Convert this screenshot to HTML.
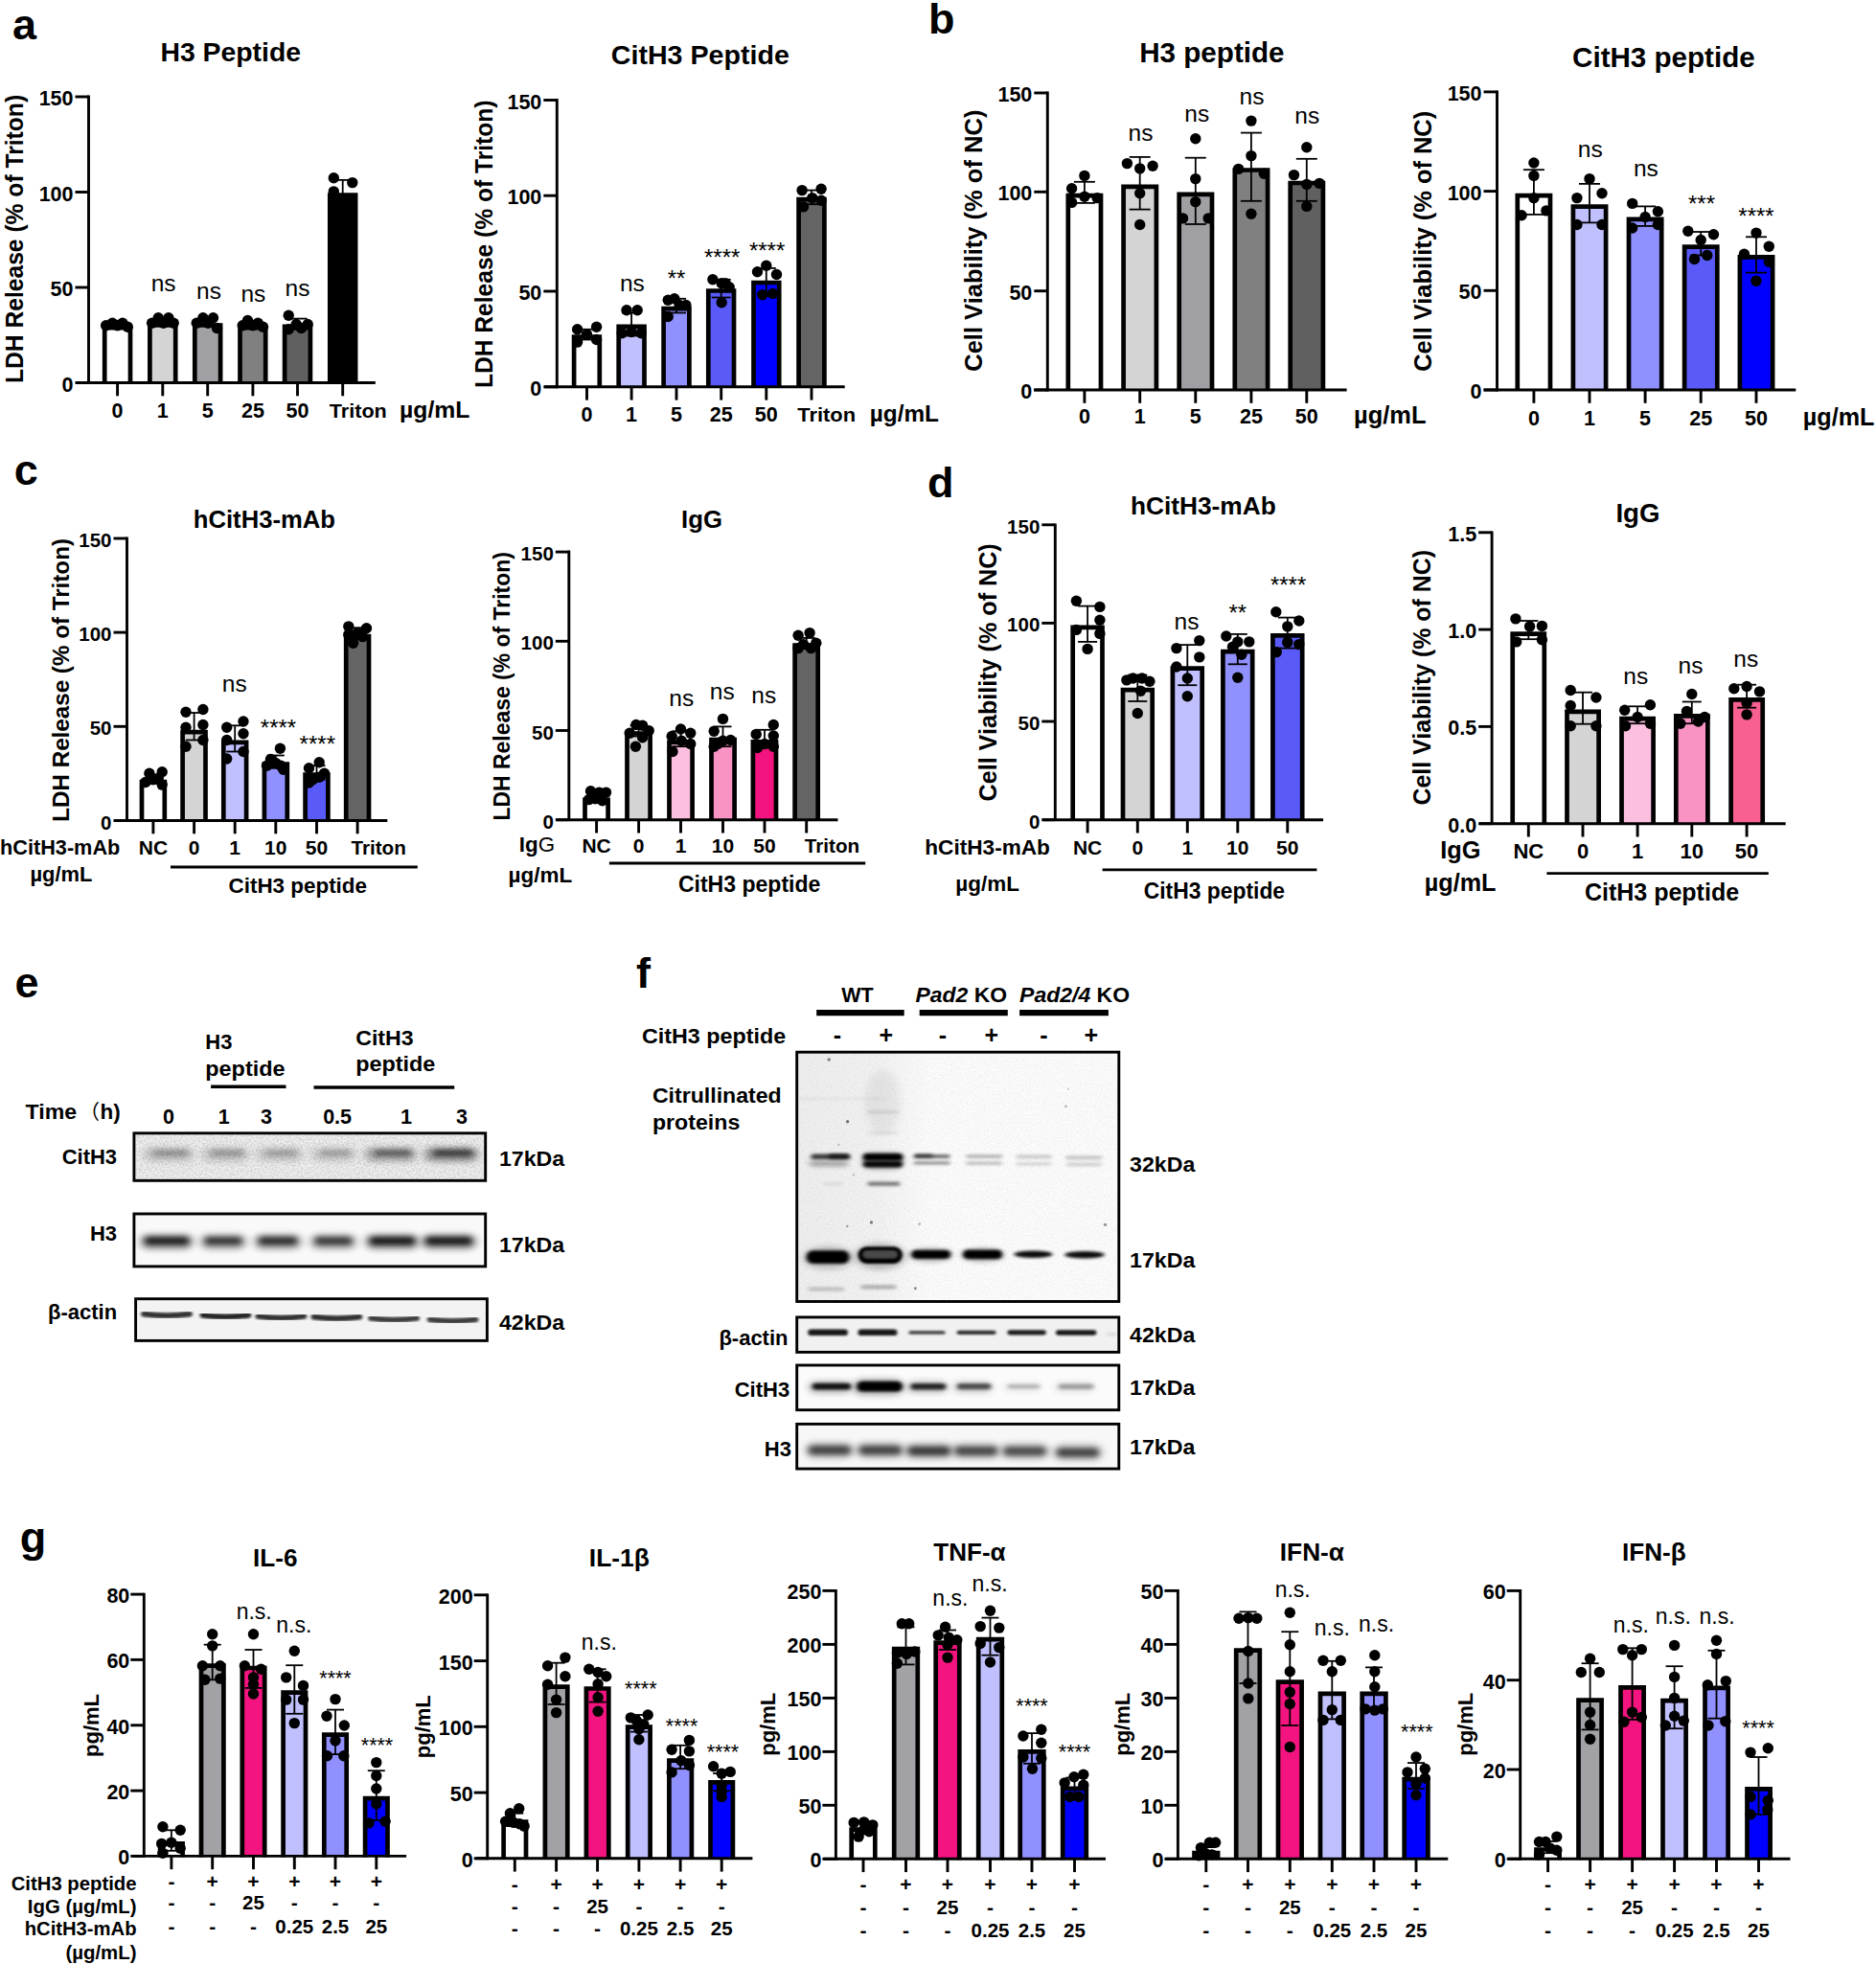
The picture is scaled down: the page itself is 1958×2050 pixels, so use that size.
<!DOCTYPE html>
<html><head><meta charset="utf-8"><title>Figure</title><style>html,body{margin:0;padding:0;background:#fff}svg{display:block}</style></head><body>
<svg width="1958" height="2050" viewBox="0 0 1958 2050" font-family="'Liberation Sans', sans-serif" font-weight="bold" fill="#000">
<rect width="1958" height="2050" fill="#fff"/>
<g id="aL">
<rect x="109.2" y="342.2" width="26.7" height="57.4" fill="#fff"/>
<path d="M109.2,400.5V342.2H136.0V400.5" fill="none" stroke="#000" stroke-width="4.7"/>
<rect x="156.4" y="339.5" width="26.7" height="60.0" fill="#d4d4d4"/>
<path d="M156.4,400.5V339.5H183.2V400.5" fill="none" stroke="#000" stroke-width="4.7"/>
<rect x="203.3" y="339.5" width="26.7" height="60.0" fill="#a0a0a4"/>
<path d="M203.3,400.5V339.5H230.1V400.5" fill="none" stroke="#000" stroke-width="4.7"/>
<rect x="250.5" y="342.2" width="26.7" height="57.4" fill="#808080"/>
<path d="M250.5,400.5V342.2H277.2V400.5" fill="none" stroke="#000" stroke-width="4.7"/>
<rect x="297.1" y="340.8" width="26.7" height="58.7" fill="#606060"/>
<path d="M297.1,400.5V340.8H323.9V400.5" fill="none" stroke="#000" stroke-width="4.7"/>
<rect x="344.3" y="203.6" width="26.7" height="195.9" fill="#000"/>
<path d="M344.3,400.5V203.6H371.1V400.5" fill="none" stroke="#000" stroke-width="4.7"/>
<line x1="310.5" y1="332.6" x2="310.5" y2="343.8" stroke="#000" stroke-width="1.8" stroke-linecap="butt"/>
<line x1="300.5" y1="332.6" x2="320.5" y2="332.6" stroke="#000" stroke-width="1.8" stroke-linecap="butt"/>
<line x1="300.5" y1="343.8" x2="320.5" y2="343.8" stroke="#000" stroke-width="1.8" stroke-linecap="butt"/>
<line x1="357.7" y1="187.9" x2="357.7" y2="214.6" stroke="#000" stroke-width="1.8" stroke-linecap="butt"/>
<line x1="347.7" y1="187.9" x2="367.7" y2="187.9" stroke="#000" stroke-width="1.8" stroke-linecap="butt"/>
<line x1="347.7" y1="214.6" x2="367.7" y2="214.6" stroke="#000" stroke-width="1.8" stroke-linecap="butt"/>
<circle cx="110.6" cy="339.8" r="5.7"/>
<circle cx="117.3" cy="337.2" r="5.7"/>
<circle cx="122.6" cy="339.8" r="5.7"/>
<circle cx="127.9" cy="337.2" r="5.7"/>
<circle cx="133.3" cy="341.2" r="5.7"/>
<circle cx="158.6" cy="337.2" r="5.7"/>
<circle cx="165.2" cy="331.8" r="5.7"/>
<circle cx="170.6" cy="337.2" r="5.7"/>
<circle cx="175.9" cy="331.8" r="5.7"/>
<circle cx="181.2" cy="337.2" r="5.7"/>
<circle cx="205.2" cy="337.2" r="5.7"/>
<circle cx="211.9" cy="331.8" r="5.7"/>
<circle cx="217.2" cy="337.2" r="5.7"/>
<circle cx="222.5" cy="331.8" r="5.7"/>
<circle cx="226.5" cy="342.5" r="5.7"/>
<circle cx="253.2" cy="339.8" r="5.7"/>
<circle cx="258.5" cy="334.5" r="5.7"/>
<circle cx="263.9" cy="339.8" r="5.7"/>
<circle cx="269.2" cy="337.2" r="5.7"/>
<circle cx="274.5" cy="341.2" r="5.7"/>
<circle cx="301.2" cy="329.2" r="5.7"/>
<circle cx="301.2" cy="343.8" r="5.7"/>
<circle cx="309.2" cy="338.5" r="5.7"/>
<circle cx="314.5" cy="342.5" r="5.7"/>
<circle cx="321.2" cy="338.5" r="5.7"/>
<circle cx="348.3" cy="185.8" r="5.7"/>
<circle cx="348.3" cy="199.9" r="5.7"/>
<circle cx="367.8" cy="190.6" r="5.7"/>
<line x1="92.5" y1="99.6" x2="92.5" y2="401.0" stroke="#000" stroke-width="2.9" stroke-linecap="butt"/>
<line x1="79.2" y1="399.5" x2="391.8" y2="399.5" stroke="#000" stroke-width="2.9" stroke-linecap="butt"/>
<line x1="78.5" y1="101.0" x2="92.5" y2="101.0" stroke="#000" stroke-width="2.9" stroke-linecap="butt"/>
<text x="76.5" y="110.0" font-size="21.5" text-anchor="end">150</text>
<line x1="78.5" y1="200.5" x2="92.5" y2="200.5" stroke="#000" stroke-width="2.9" stroke-linecap="butt"/>
<text x="76.5" y="209.5" font-size="21.5" text-anchor="end">100</text>
<line x1="78.5" y1="300.0" x2="92.5" y2="300.0" stroke="#000" stroke-width="2.9" stroke-linecap="butt"/>
<text x="76.5" y="309.0" font-size="21.5" text-anchor="end">50</text>
<line x1="78.5" y1="399.5" x2="92.5" y2="399.5" stroke="#000" stroke-width="2.9" stroke-linecap="butt"/>
<text x="76.5" y="408.5" font-size="21.5" text-anchor="end">0</text>
<line x1="122.6" y1="399.5" x2="122.6" y2="413.3" stroke="#000" stroke-width="2.9" stroke-linecap="butt"/>
<line x1="169.8" y1="399.5" x2="169.8" y2="413.3" stroke="#000" stroke-width="2.9" stroke-linecap="butt"/>
<line x1="216.7" y1="399.5" x2="216.7" y2="413.3" stroke="#000" stroke-width="2.9" stroke-linecap="butt"/>
<line x1="263.9" y1="399.5" x2="263.9" y2="413.3" stroke="#000" stroke-width="2.9" stroke-linecap="butt"/>
<line x1="310.5" y1="399.5" x2="310.5" y2="413.3" stroke="#000" stroke-width="2.9" stroke-linecap="butt"/>
<line x1="357.7" y1="399.5" x2="357.7" y2="413.3" stroke="#000" stroke-width="2.9" stroke-linecap="butt"/>
<text x="170.6" y="303.8" font-size="24.5" text-anchor="middle" font-weight="normal">ns</text>
<text x="218.0" y="311.8" font-size="24.5" text-anchor="middle" font-weight="normal">ns</text>
<text x="264.4" y="314.5" font-size="24.5" text-anchor="middle" font-weight="normal">ns</text>
<text x="310.5" y="308.6" font-size="24.5" text-anchor="middle" font-weight="normal">ns</text>
<text x="122.6" y="435.8" font-size="21.5" text-anchor="middle">0</text>
<text x="169.8" y="435.8" font-size="21.5" text-anchor="middle">1</text>
<text x="216.7" y="435.8" font-size="21.5" text-anchor="middle">5</text>
<text x="263.9" y="435.8" font-size="21.5" text-anchor="middle">25</text>
<text x="310.5" y="435.8" font-size="21.5" text-anchor="middle">50</text>
<text x="343.8" y="435.8" font-size="21" text-anchor="start" textLength="60.0" lengthAdjust="spacingAndGlyphs">Triton</text>
<text x="417.1" y="435.8" font-size="24.5" text-anchor="start" textLength="73.3" lengthAdjust="spacingAndGlyphs">µg/mL</text>
<text x="167.4" y="64.0" font-size="28.5" text-anchor="start" textLength="146.6" lengthAdjust="spacingAndGlyphs">H3 Peptide</text>
<text font-size="25" text-anchor="start" textLength="301.2" lengthAdjust="spacingAndGlyphs" transform="translate(15.2 400.1) rotate(-90)" x="0" y="9.0">LDH Release (% of Triton)</text>
</g>
<g id="aR">
<rect x="599.1" y="351.5" width="26.7" height="52.3" fill="#fff"/>
<path d="M599.1,404.8V351.5H625.8V404.8" fill="none" stroke="#000" stroke-width="4.7"/>
<rect x="645.7" y="340.8" width="26.7" height="62.9" fill="#c0c0ff"/>
<path d="M645.7,404.8V340.8H672.5V404.8" fill="none" stroke="#000" stroke-width="4.7"/>
<rect x="692.6" y="322.2" width="26.7" height="81.6" fill="#9090ff"/>
<path d="M692.6,404.8V322.2H719.4V404.8" fill="none" stroke="#000" stroke-width="4.7"/>
<rect x="739.3" y="303.5" width="26.7" height="100.3" fill="#5a5af8"/>
<path d="M739.3,404.8V303.5H766.0V404.8" fill="none" stroke="#000" stroke-width="4.7"/>
<rect x="786.5" y="295.0" width="26.7" height="108.8" fill="#0000ff"/>
<path d="M786.5,404.8V295.0H813.2V404.8" fill="none" stroke="#000" stroke-width="4.7"/>
<rect x="833.6" y="208.1" width="26.7" height="195.7" fill="#646464"/>
<path d="M833.6,404.8V208.1H860.4V404.8" fill="none" stroke="#000" stroke-width="4.7"/>
<line x1="612.5" y1="343.8" x2="612.5" y2="354.5" stroke="#000" stroke-width="1.8" stroke-linecap="butt"/>
<line x1="602.5" y1="343.8" x2="622.5" y2="343.8" stroke="#000" stroke-width="1.8" stroke-linecap="butt"/>
<line x1="602.5" y1="354.5" x2="622.5" y2="354.5" stroke="#000" stroke-width="1.8" stroke-linecap="butt"/>
<line x1="659.1" y1="326.5" x2="659.1" y2="350.5" stroke="#000" stroke-width="1.8" stroke-linecap="butt"/>
<line x1="649.1" y1="326.5" x2="669.1" y2="326.5" stroke="#000" stroke-width="1.8" stroke-linecap="butt"/>
<line x1="649.1" y1="350.5" x2="669.1" y2="350.5" stroke="#000" stroke-width="1.8" stroke-linecap="butt"/>
<line x1="706.0" y1="311.8" x2="706.0" y2="326.5" stroke="#000" stroke-width="1.8" stroke-linecap="butt"/>
<line x1="696.0" y1="311.8" x2="716.0" y2="311.8" stroke="#000" stroke-width="1.8" stroke-linecap="butt"/>
<line x1="696.0" y1="326.5" x2="716.0" y2="326.5" stroke="#000" stroke-width="1.8" stroke-linecap="butt"/>
<line x1="752.7" y1="291.8" x2="752.7" y2="310.5" stroke="#000" stroke-width="1.8" stroke-linecap="butt"/>
<line x1="742.7" y1="291.8" x2="762.7" y2="291.8" stroke="#000" stroke-width="1.8" stroke-linecap="butt"/>
<line x1="742.7" y1="310.5" x2="762.7" y2="310.5" stroke="#000" stroke-width="1.8" stroke-linecap="butt"/>
<line x1="799.8" y1="279.9" x2="799.8" y2="306.5" stroke="#000" stroke-width="1.8" stroke-linecap="butt"/>
<line x1="789.8" y1="279.9" x2="809.8" y2="279.9" stroke="#000" stroke-width="1.8" stroke-linecap="butt"/>
<line x1="789.8" y1="306.5" x2="809.8" y2="306.5" stroke="#000" stroke-width="1.8" stroke-linecap="butt"/>
<line x1="847.0" y1="198.6" x2="847.0" y2="213.2" stroke="#000" stroke-width="1.8" stroke-linecap="butt"/>
<line x1="837.0" y1="198.6" x2="857.0" y2="198.6" stroke="#000" stroke-width="1.8" stroke-linecap="butt"/>
<line x1="837.0" y1="213.2" x2="857.0" y2="213.2" stroke="#000" stroke-width="1.8" stroke-linecap="butt"/>
<circle cx="602.6" cy="343.8" r="5.7"/>
<circle cx="602.6" cy="357.1" r="5.7"/>
<circle cx="612.5" cy="349.1" r="5.7"/>
<circle cx="622.6" cy="341.2" r="5.7"/>
<circle cx="622.6" cy="354.5" r="5.7"/>
<circle cx="654.0" cy="323.8" r="5.7"/>
<circle cx="665.2" cy="323.8" r="5.7"/>
<circle cx="649.2" cy="347.8" r="5.7"/>
<circle cx="659.1" cy="346.5" r="5.7"/>
<circle cx="669.2" cy="347.8" r="5.7"/>
<circle cx="697.2" cy="313.2" r="5.7"/>
<circle cx="703.9" cy="311.8" r="5.7"/>
<circle cx="697.2" cy="330.5" r="5.7"/>
<circle cx="709.2" cy="318.5" r="5.7"/>
<circle cx="715.9" cy="318.5" r="5.7"/>
<circle cx="743.9" cy="291.8" r="5.7"/>
<circle cx="753.2" cy="295.8" r="5.7"/>
<circle cx="761.2" cy="299.8" r="5.7"/>
<circle cx="753.2" cy="315.8" r="5.7"/>
<circle cx="757.2" cy="295.8" r="5.7"/>
<circle cx="790.5" cy="283.8" r="5.7"/>
<circle cx="799.8" cy="277.2" r="5.7"/>
<circle cx="810.5" cy="286.5" r="5.7"/>
<circle cx="795.8" cy="307.8" r="5.7"/>
<circle cx="806.5" cy="306.5" r="5.7"/>
<circle cx="837.1" cy="198.6" r="5.7"/>
<circle cx="857.1" cy="197.2" r="5.7"/>
<circle cx="838.5" cy="215.9" r="5.7"/>
<circle cx="847.8" cy="206.6" r="5.7"/>
<circle cx="857.1" cy="209.2" r="5.7"/>
<line x1="581.3" y1="103.0" x2="581.3" y2="405.2" stroke="#000" stroke-width="2.9" stroke-linecap="butt"/>
<line x1="568.0" y1="403.8" x2="881.7" y2="403.8" stroke="#000" stroke-width="2.9" stroke-linecap="butt"/>
<line x1="567.3" y1="104.5" x2="581.3" y2="104.5" stroke="#000" stroke-width="2.9" stroke-linecap="butt"/>
<text x="565.3" y="113.5" font-size="21.5" text-anchor="end">150</text>
<line x1="567.3" y1="204.2" x2="581.3" y2="204.2" stroke="#000" stroke-width="2.9" stroke-linecap="butt"/>
<text x="565.3" y="213.2" font-size="21.5" text-anchor="end">100</text>
<line x1="567.3" y1="304.0" x2="581.3" y2="304.0" stroke="#000" stroke-width="2.9" stroke-linecap="butt"/>
<text x="565.3" y="313.0" font-size="21.5" text-anchor="end">50</text>
<line x1="567.3" y1="403.8" x2="581.3" y2="403.8" stroke="#000" stroke-width="2.9" stroke-linecap="butt"/>
<text x="565.3" y="412.8" font-size="21.5" text-anchor="end">0</text>
<line x1="612.5" y1="403.8" x2="612.5" y2="417.6" stroke="#000" stroke-width="2.9" stroke-linecap="butt"/>
<line x1="659.1" y1="403.8" x2="659.1" y2="417.6" stroke="#000" stroke-width="2.9" stroke-linecap="butt"/>
<line x1="706.0" y1="403.8" x2="706.0" y2="417.6" stroke="#000" stroke-width="2.9" stroke-linecap="butt"/>
<line x1="752.7" y1="403.8" x2="752.7" y2="417.6" stroke="#000" stroke-width="2.9" stroke-linecap="butt"/>
<line x1="799.8" y1="403.8" x2="799.8" y2="417.6" stroke="#000" stroke-width="2.9" stroke-linecap="butt"/>
<line x1="847.0" y1="403.8" x2="847.0" y2="417.6" stroke="#000" stroke-width="2.9" stroke-linecap="butt"/>
<text x="659.9" y="303.8" font-size="24.5" text-anchor="middle" font-weight="normal">ns</text>
<text x="706.0" y="298.7" font-size="24" text-anchor="middle" font-weight="normal">**</text>
<text x="753.7" y="276.8" font-size="24" text-anchor="middle" font-weight="normal">****</text>
<text x="800.6" y="270.2" font-size="24" text-anchor="middle" font-weight="normal">****</text>
<text x="612.5" y="439.8" font-size="21.5" text-anchor="middle">0</text>
<text x="659.1" y="439.8" font-size="21.5" text-anchor="middle">1</text>
<text x="706.0" y="439.8" font-size="21.5" text-anchor="middle">5</text>
<text x="752.7" y="439.8" font-size="21.5" text-anchor="middle">25</text>
<text x="799.8" y="439.8" font-size="21.5" text-anchor="middle">50</text>
<text x="832.3" y="439.8" font-size="21" text-anchor="start" textLength="60.8" lengthAdjust="spacingAndGlyphs">Triton</text>
<text x="907.8" y="439.8" font-size="24.5" text-anchor="start" textLength="72.2" lengthAdjust="spacingAndGlyphs">µg/mL</text>
<text x="637.8" y="66.6" font-size="28.5" text-anchor="start" textLength="186.0" lengthAdjust="spacingAndGlyphs">CitH3 Peptide</text>
<text font-size="25" text-anchor="start" textLength="300.6" lengthAdjust="spacingAndGlyphs" transform="translate(505.3 405.1) rotate(-90)" x="0" y="9.0">LDH Release (% of Triton)</text>
</g>
<g id="bL">
<rect x="1114.8" y="204.1" width="34.2" height="202.9" fill="#fff"/>
<path d="M1114.8,408.0V204.1H1149.0V408.0" fill="none" stroke="#000" stroke-width="4.7"/>
<rect x="1172.6" y="194.8" width="34.2" height="212.2" fill="#d4d4d4"/>
<path d="M1172.6,408.0V194.8H1206.9V408.0" fill="none" stroke="#000" stroke-width="4.7"/>
<rect x="1230.7" y="202.8" width="34.2" height="204.2" fill="#a0a0a4"/>
<path d="M1230.7,408.0V202.8H1265.0V408.0" fill="none" stroke="#000" stroke-width="4.7"/>
<rect x="1288.8" y="177.5" width="34.2" height="229.5" fill="#808080"/>
<path d="M1288.8,408.0V177.5H1323.1V408.0" fill="none" stroke="#000" stroke-width="4.7"/>
<rect x="1346.7" y="191.0" width="34.2" height="215.9" fill="#606060"/>
<path d="M1346.7,408.0V191.0H1380.9V408.0" fill="none" stroke="#000" stroke-width="4.7"/>
<line x1="1131.9" y1="189.8" x2="1131.9" y2="211.9" stroke="#000" stroke-width="1.8" stroke-linecap="butt"/>
<line x1="1120.9" y1="189.8" x2="1142.9" y2="189.8" stroke="#000" stroke-width="1.8" stroke-linecap="butt"/>
<line x1="1120.9" y1="211.9" x2="1142.9" y2="211.9" stroke="#000" stroke-width="1.8" stroke-linecap="butt"/>
<line x1="1189.7" y1="163.9" x2="1189.7" y2="218.6" stroke="#000" stroke-width="1.8" stroke-linecap="butt"/>
<line x1="1178.7" y1="163.9" x2="1200.7" y2="163.9" stroke="#000" stroke-width="1.8" stroke-linecap="butt"/>
<line x1="1178.7" y1="218.6" x2="1200.7" y2="218.6" stroke="#000" stroke-width="1.8" stroke-linecap="butt"/>
<line x1="1247.8" y1="164.7" x2="1247.8" y2="234.0" stroke="#000" stroke-width="1.8" stroke-linecap="butt"/>
<line x1="1236.8" y1="164.7" x2="1258.8" y2="164.7" stroke="#000" stroke-width="1.8" stroke-linecap="butt"/>
<line x1="1236.8" y1="234.0" x2="1258.8" y2="234.0" stroke="#000" stroke-width="1.8" stroke-linecap="butt"/>
<line x1="1305.9" y1="138.6" x2="1305.9" y2="209.8" stroke="#000" stroke-width="1.8" stroke-linecap="butt"/>
<line x1="1294.9" y1="138.6" x2="1316.9" y2="138.6" stroke="#000" stroke-width="1.8" stroke-linecap="butt"/>
<line x1="1294.9" y1="209.8" x2="1316.9" y2="209.8" stroke="#000" stroke-width="1.8" stroke-linecap="butt"/>
<line x1="1363.8" y1="165.8" x2="1363.8" y2="209.8" stroke="#000" stroke-width="1.8" stroke-linecap="butt"/>
<line x1="1352.8" y1="165.8" x2="1374.8" y2="165.8" stroke="#000" stroke-width="1.8" stroke-linecap="butt"/>
<line x1="1352.8" y1="209.8" x2="1374.8" y2="209.8" stroke="#000" stroke-width="1.8" stroke-linecap="butt"/>
<circle cx="1131.9" cy="183.4" r="5.7"/>
<circle cx="1118.6" cy="196.7" r="5.7"/>
<circle cx="1118.6" cy="211.4" r="5.7"/>
<circle cx="1131.9" cy="205.2" r="5.7"/>
<circle cx="1145.2" cy="206.6" r="5.7"/>
<circle cx="1176.4" cy="170.6" r="5.7"/>
<circle cx="1189.7" cy="175.9" r="5.7"/>
<circle cx="1203.1" cy="173.2" r="5.7"/>
<circle cx="1189.7" cy="201.8" r="5.7"/>
<circle cx="1189.7" cy="234.5" r="5.7"/>
<circle cx="1247.8" cy="144.7" r="5.7"/>
<circle cx="1247.8" cy="186.6" r="5.7"/>
<circle cx="1247.8" cy="210.6" r="5.7"/>
<circle cx="1234.5" cy="227.9" r="5.7"/>
<circle cx="1261.2" cy="227.9" r="5.7"/>
<circle cx="1305.9" cy="126.1" r="5.7"/>
<circle cx="1305.9" cy="162.6" r="5.7"/>
<circle cx="1292.6" cy="176.4" r="5.7"/>
<circle cx="1319.3" cy="181.2" r="5.7"/>
<circle cx="1305.9" cy="223.3" r="5.7"/>
<circle cx="1363.8" cy="153.8" r="5.7"/>
<circle cx="1350.5" cy="182.6" r="5.7"/>
<circle cx="1363.8" cy="192.4" r="5.7"/>
<circle cx="1377.1" cy="191.4" r="5.7"/>
<circle cx="1363.8" cy="215.4" r="5.7"/>
<line x1="1093.3" y1="95.6" x2="1093.3" y2="408.4" stroke="#000" stroke-width="2.9" stroke-linecap="butt"/>
<line x1="1079.1" y1="407.0" x2="1405.6" y2="407.0" stroke="#000" stroke-width="2.9" stroke-linecap="butt"/>
<line x1="1079.3" y1="97.0" x2="1093.3" y2="97.0" stroke="#000" stroke-width="2.9" stroke-linecap="butt"/>
<text x="1077.3" y="106.0" font-size="21.5" text-anchor="end">150</text>
<line x1="1079.3" y1="200.3" x2="1093.3" y2="200.3" stroke="#000" stroke-width="2.9" stroke-linecap="butt"/>
<text x="1077.3" y="209.3" font-size="21.5" text-anchor="end">100</text>
<line x1="1079.3" y1="303.7" x2="1093.3" y2="303.7" stroke="#000" stroke-width="2.9" stroke-linecap="butt"/>
<text x="1077.3" y="312.7" font-size="21.5" text-anchor="end">50</text>
<line x1="1079.3" y1="407.0" x2="1093.3" y2="407.0" stroke="#000" stroke-width="2.9" stroke-linecap="butt"/>
<text x="1077.3" y="416.0" font-size="21.5" text-anchor="end">0</text>
<line x1="1131.9" y1="407.0" x2="1131.9" y2="420.8" stroke="#000" stroke-width="2.9" stroke-linecap="butt"/>
<line x1="1189.7" y1="407.0" x2="1189.7" y2="420.8" stroke="#000" stroke-width="2.9" stroke-linecap="butt"/>
<line x1="1247.8" y1="407.0" x2="1247.8" y2="420.8" stroke="#000" stroke-width="2.9" stroke-linecap="butt"/>
<line x1="1305.9" y1="407.0" x2="1305.9" y2="420.8" stroke="#000" stroke-width="2.9" stroke-linecap="butt"/>
<line x1="1363.8" y1="407.0" x2="1363.8" y2="420.8" stroke="#000" stroke-width="2.9" stroke-linecap="butt"/>
<text x="1190.5" y="146.6" font-size="24.5" text-anchor="middle" font-weight="normal">ns</text>
<text x="1249.2" y="126.6" font-size="24.5" text-anchor="middle" font-weight="normal">ns</text>
<text x="1306.5" y="108.5" font-size="24.5" text-anchor="middle" font-weight="normal">ns</text>
<text x="1364.3" y="129.3" font-size="24.5" text-anchor="middle" font-weight="normal">ns</text>
<text x="1131.9" y="442.4" font-size="21.5" text-anchor="middle">0</text>
<text x="1189.7" y="442.4" font-size="21.5" text-anchor="middle">1</text>
<text x="1247.8" y="442.4" font-size="21.5" text-anchor="middle">5</text>
<text x="1305.9" y="442.4" font-size="21.5" text-anchor="middle">25</text>
<text x="1363.8" y="442.4" font-size="21.5" text-anchor="middle">50</text>
<text x="1413.1" y="442.4" font-size="25" text-anchor="start" textLength="75.4" lengthAdjust="spacingAndGlyphs">µg/mL</text>
<text x="1189.2" y="65.3" font-size="29.5" text-anchor="start" textLength="151.4" lengthAdjust="spacingAndGlyphs">H3 peptide</text>
<text font-size="25" text-anchor="start" textLength="273.2" lengthAdjust="spacingAndGlyphs" transform="translate(1016.0 387.8) rotate(-90)" x="0" y="9.0">Cell Viability (% of NC)</text>
</g>
<g id="bR">
<rect x="1583.8" y="204.1" width="34.2" height="202.9" fill="#fff"/>
<path d="M1583.8,408.0V204.1H1618.0V408.0" fill="none" stroke="#000" stroke-width="4.7"/>
<rect x="1641.9" y="215.6" width="34.2" height="191.4" fill="#c0c0ff"/>
<path d="M1641.9,408.0V215.6H1676.1V408.0" fill="none" stroke="#000" stroke-width="4.7"/>
<rect x="1700.0" y="228.9" width="34.2" height="178.1" fill="#9090ff"/>
<path d="M1700.0,408.0V228.9H1734.2V408.0" fill="none" stroke="#000" stroke-width="4.7"/>
<rect x="1758.1" y="257.7" width="34.2" height="149.3" fill="#5a5af8"/>
<path d="M1758.1,408.0V257.7H1792.3V408.0" fill="none" stroke="#000" stroke-width="4.7"/>
<rect x="1815.9" y="268.3" width="34.2" height="138.6" fill="#0000ff"/>
<path d="M1815.9,408.0V268.3H1850.1V408.0" fill="none" stroke="#000" stroke-width="4.7"/>
<line x1="1600.9" y1="177.2" x2="1600.9" y2="223.9" stroke="#000" stroke-width="1.8" stroke-linecap="butt"/>
<line x1="1589.9" y1="177.2" x2="1611.9" y2="177.2" stroke="#000" stroke-width="1.8" stroke-linecap="butt"/>
<line x1="1589.9" y1="223.9" x2="1611.9" y2="223.9" stroke="#000" stroke-width="1.8" stroke-linecap="butt"/>
<line x1="1659.0" y1="191.9" x2="1659.0" y2="232.4" stroke="#000" stroke-width="1.8" stroke-linecap="butt"/>
<line x1="1648.0" y1="191.9" x2="1670.0" y2="191.9" stroke="#000" stroke-width="1.8" stroke-linecap="butt"/>
<line x1="1648.0" y1="232.4" x2="1670.0" y2="232.4" stroke="#000" stroke-width="1.8" stroke-linecap="butt"/>
<line x1="1717.1" y1="215.4" x2="1717.1" y2="235.9" stroke="#000" stroke-width="1.8" stroke-linecap="butt"/>
<line x1="1706.1" y1="215.4" x2="1728.1" y2="215.4" stroke="#000" stroke-width="1.8" stroke-linecap="butt"/>
<line x1="1706.1" y1="235.9" x2="1728.1" y2="235.9" stroke="#000" stroke-width="1.8" stroke-linecap="butt"/>
<line x1="1775.2" y1="242.0" x2="1775.2" y2="266.5" stroke="#000" stroke-width="1.8" stroke-linecap="butt"/>
<line x1="1764.2" y1="242.0" x2="1786.2" y2="242.0" stroke="#000" stroke-width="1.8" stroke-linecap="butt"/>
<line x1="1764.2" y1="266.5" x2="1786.2" y2="266.5" stroke="#000" stroke-width="1.8" stroke-linecap="butt"/>
<line x1="1833.0" y1="247.3" x2="1833.0" y2="284.6" stroke="#000" stroke-width="1.8" stroke-linecap="butt"/>
<line x1="1822.0" y1="247.3" x2="1844.0" y2="247.3" stroke="#000" stroke-width="1.8" stroke-linecap="butt"/>
<line x1="1822.0" y1="284.6" x2="1844.0" y2="284.6" stroke="#000" stroke-width="1.8" stroke-linecap="butt"/>
<circle cx="1600.9" cy="170.0" r="5.7"/>
<circle cx="1600.9" cy="183.4" r="5.7"/>
<circle cx="1600.9" cy="206.6" r="5.7"/>
<circle cx="1588.1" cy="224.7" r="5.7"/>
<circle cx="1613.9" cy="219.9" r="5.7"/>
<circle cx="1659.0" cy="186.6" r="5.7"/>
<circle cx="1645.9" cy="206.6" r="5.7"/>
<circle cx="1672.0" cy="201.8" r="5.7"/>
<circle cx="1645.9" cy="234.5" r="5.7"/>
<circle cx="1672.0" cy="234.5" r="5.7"/>
<circle cx="1703.7" cy="212.4" r="5.7"/>
<circle cx="1717.1" cy="226.5" r="5.7"/>
<circle cx="1730.4" cy="220.7" r="5.7"/>
<circle cx="1703.7" cy="238.0" r="5.7"/>
<circle cx="1730.4" cy="234.5" r="5.7"/>
<circle cx="1761.8" cy="241.2" r="5.7"/>
<circle cx="1788.5" cy="244.7" r="5.7"/>
<circle cx="1775.2" cy="250.5" r="5.7"/>
<circle cx="1768.5" cy="270.5" r="5.7"/>
<circle cx="1781.8" cy="266.5" r="5.7"/>
<circle cx="1833.0" cy="243.1" r="5.7"/>
<circle cx="1846.3" cy="257.2" r="5.7"/>
<circle cx="1820.5" cy="265.2" r="5.7"/>
<circle cx="1846.3" cy="273.2" r="5.7"/>
<circle cx="1833.0" cy="293.2" r="5.7"/>
<line x1="1562.5" y1="94.5" x2="1562.5" y2="408.4" stroke="#000" stroke-width="2.9" stroke-linecap="butt"/>
<line x1="1548.6" y1="407.0" x2="1874.3" y2="407.0" stroke="#000" stroke-width="2.9" stroke-linecap="butt"/>
<line x1="1548.5" y1="95.9" x2="1562.5" y2="95.9" stroke="#000" stroke-width="2.9" stroke-linecap="butt"/>
<text x="1546.5" y="104.9" font-size="21.5" text-anchor="end">150</text>
<line x1="1548.5" y1="199.6" x2="1562.5" y2="199.6" stroke="#000" stroke-width="2.9" stroke-linecap="butt"/>
<text x="1546.5" y="208.6" font-size="21.5" text-anchor="end">100</text>
<line x1="1548.5" y1="303.3" x2="1562.5" y2="303.3" stroke="#000" stroke-width="2.9" stroke-linecap="butt"/>
<text x="1546.5" y="312.3" font-size="21.5" text-anchor="end">50</text>
<line x1="1548.5" y1="407.0" x2="1562.5" y2="407.0" stroke="#000" stroke-width="2.9" stroke-linecap="butt"/>
<text x="1546.5" y="416.0" font-size="21.5" text-anchor="end">0</text>
<line x1="1600.9" y1="407.0" x2="1600.9" y2="420.8" stroke="#000" stroke-width="2.9" stroke-linecap="butt"/>
<line x1="1659.0" y1="407.0" x2="1659.0" y2="420.8" stroke="#000" stroke-width="2.9" stroke-linecap="butt"/>
<line x1="1717.1" y1="407.0" x2="1717.1" y2="420.8" stroke="#000" stroke-width="2.9" stroke-linecap="butt"/>
<line x1="1775.2" y1="407.0" x2="1775.2" y2="420.8" stroke="#000" stroke-width="2.9" stroke-linecap="butt"/>
<line x1="1833.0" y1="407.0" x2="1833.0" y2="420.8" stroke="#000" stroke-width="2.9" stroke-linecap="butt"/>
<text x="1659.8" y="163.9" font-size="24.5" text-anchor="middle" font-weight="normal">ns</text>
<text x="1717.9" y="183.9" font-size="24.5" text-anchor="middle" font-weight="normal">ns</text>
<text x="1776.0" y="221.4" font-size="24" text-anchor="middle" font-weight="normal">***</text>
<text x="1833.0" y="234.2" font-size="24" text-anchor="middle" font-weight="normal">****</text>
<text x="1600.9" y="443.8" font-size="21.5" text-anchor="middle">0</text>
<text x="1659.0" y="443.8" font-size="21.5" text-anchor="middle">1</text>
<text x="1717.1" y="443.8" font-size="21.5" text-anchor="middle">5</text>
<text x="1775.2" y="443.8" font-size="21.5" text-anchor="middle">25</text>
<text x="1833.0" y="443.8" font-size="21.5" text-anchor="middle">50</text>
<text x="1881.8" y="443.8" font-size="25" text-anchor="start" textLength="74.6" lengthAdjust="spacingAndGlyphs">µg/mL</text>
<text x="1641.1" y="69.8" font-size="29.5" text-anchor="start" textLength="190.6" lengthAdjust="spacingAndGlyphs">CitH3 peptide</text>
<text font-size="25" text-anchor="start" textLength="271.9" lengthAdjust="spacingAndGlyphs" transform="translate(1484.7 387.8) rotate(-90)" x="0" y="9.0">Cell Viability (% of NC)</text>
</g>
<g id="cL">
<rect x="148.0" y="816.2" width="23.8" height="40.3" fill="#fff"/>
<path d="M148.0,857.5V816.2H171.8V857.5" fill="none" stroke="#000" stroke-width="4.7"/>
<rect x="190.6" y="764.2" width="23.8" height="92.3" fill="#d4d4d4"/>
<path d="M190.6,857.5V764.2H214.5V857.5" fill="none" stroke="#000" stroke-width="4.7"/>
<rect x="233.3" y="774.9" width="23.8" height="81.6" fill="#c0c0ff"/>
<path d="M233.3,857.5V774.9H257.1V857.5" fill="none" stroke="#000" stroke-width="4.7"/>
<rect x="275.9" y="797.5" width="23.8" height="59.0" fill="#9090ff"/>
<path d="M275.9,857.5V797.5H299.8V857.5" fill="none" stroke="#000" stroke-width="4.7"/>
<rect x="318.6" y="808.7" width="23.8" height="47.8" fill="#5a5af8"/>
<path d="M318.6,857.5V808.7H342.4V857.5" fill="none" stroke="#000" stroke-width="4.7"/>
<rect x="361.2" y="664.2" width="23.8" height="192.2" fill="#646464"/>
<path d="M361.2,857.5V664.2H385.0V857.5" fill="none" stroke="#000" stroke-width="4.7"/>
<line x1="159.9" y1="808.5" x2="159.9" y2="817.8" stroke="#000" stroke-width="1.8" stroke-linecap="butt"/>
<line x1="150.9" y1="808.5" x2="168.9" y2="808.5" stroke="#000" stroke-width="1.8" stroke-linecap="butt"/>
<line x1="150.9" y1="817.8" x2="168.9" y2="817.8" stroke="#000" stroke-width="1.8" stroke-linecap="butt"/>
<line x1="202.6" y1="744.0" x2="202.6" y2="772.5" stroke="#000" stroke-width="1.8" stroke-linecap="butt"/>
<line x1="193.6" y1="744.0" x2="211.6" y2="744.0" stroke="#000" stroke-width="1.8" stroke-linecap="butt"/>
<line x1="193.6" y1="772.5" x2="211.6" y2="772.5" stroke="#000" stroke-width="1.8" stroke-linecap="butt"/>
<line x1="245.2" y1="757.3" x2="245.2" y2="784.5" stroke="#000" stroke-width="1.8" stroke-linecap="butt"/>
<line x1="236.2" y1="757.3" x2="254.2" y2="757.3" stroke="#000" stroke-width="1.8" stroke-linecap="butt"/>
<line x1="236.2" y1="784.5" x2="254.2" y2="784.5" stroke="#000" stroke-width="1.8" stroke-linecap="butt"/>
<line x1="287.8" y1="788.5" x2="287.8" y2="801.8" stroke="#000" stroke-width="1.8" stroke-linecap="butt"/>
<line x1="278.8" y1="788.5" x2="296.8" y2="788.5" stroke="#000" stroke-width="1.8" stroke-linecap="butt"/>
<line x1="278.8" y1="801.8" x2="296.8" y2="801.8" stroke="#000" stroke-width="1.8" stroke-linecap="butt"/>
<line x1="330.5" y1="799.2" x2="330.5" y2="813.8" stroke="#000" stroke-width="1.8" stroke-linecap="butt"/>
<line x1="321.5" y1="799.2" x2="339.5" y2="799.2" stroke="#000" stroke-width="1.8" stroke-linecap="butt"/>
<line x1="321.5" y1="813.8" x2="339.5" y2="813.8" stroke="#000" stroke-width="1.8" stroke-linecap="butt"/>
<line x1="373.1" y1="655.2" x2="373.1" y2="667.2" stroke="#000" stroke-width="1.8" stroke-linecap="butt"/>
<line x1="364.1" y1="655.2" x2="382.1" y2="655.2" stroke="#000" stroke-width="1.8" stroke-linecap="butt"/>
<line x1="364.1" y1="667.2" x2="382.1" y2="667.2" stroke="#000" stroke-width="1.8" stroke-linecap="butt"/>
<circle cx="155.9" cy="807.2" r="5.7"/>
<circle cx="169.2" cy="805.8" r="5.7"/>
<circle cx="151.9" cy="816.5" r="5.7"/>
<circle cx="159.9" cy="813.8" r="5.7"/>
<circle cx="165.2" cy="812.5" r="5.7"/>
<circle cx="169.2" cy="819.1" r="5.7"/>
<circle cx="194.0" cy="743.2" r="5.7"/>
<circle cx="211.9" cy="740.5" r="5.7"/>
<circle cx="194.0" cy="759.2" r="5.7"/>
<circle cx="211.9" cy="756.5" r="5.7"/>
<circle cx="211.9" cy="772.5" r="5.7"/>
<circle cx="194.0" cy="779.2" r="5.7"/>
<circle cx="236.7" cy="759.2" r="5.7"/>
<circle cx="254.0" cy="753.0" r="5.7"/>
<circle cx="254.0" cy="765.8" r="5.7"/>
<circle cx="236.7" cy="772.5" r="5.7"/>
<circle cx="254.0" cy="784.5" r="5.7"/>
<circle cx="236.7" cy="792.0" r="5.7"/>
<circle cx="292.4" cy="781.3" r="5.7"/>
<circle cx="282.5" cy="792.5" r="5.7"/>
<circle cx="278.5" cy="799.2" r="5.7"/>
<circle cx="287.8" cy="796.5" r="5.7"/>
<circle cx="293.2" cy="799.2" r="5.7"/>
<circle cx="295.8" cy="803.2" r="5.7"/>
<circle cx="333.2" cy="795.7" r="5.7"/>
<circle cx="322.5" cy="801.8" r="5.7"/>
<circle cx="338.5" cy="807.2" r="5.7"/>
<circle cx="333.2" cy="811.2" r="5.7"/>
<circle cx="326.5" cy="813.8" r="5.7"/>
<circle cx="322.5" cy="817.0" r="5.7"/>
<circle cx="363.8" cy="653.9" r="5.7"/>
<circle cx="382.5" cy="655.8" r="5.7"/>
<circle cx="363.8" cy="662.4" r="5.7"/>
<circle cx="373.1" cy="660.6" r="5.7"/>
<circle cx="378.5" cy="664.6" r="5.7"/>
<circle cx="368.6" cy="671.2" r="5.7"/>
<line x1="132.5" y1="560.5" x2="132.5" y2="857.9" stroke="#000" stroke-width="2.9" stroke-linecap="butt"/>
<line x1="119.1" y1="856.5" x2="404.3" y2="856.5" stroke="#000" stroke-width="2.9" stroke-linecap="butt"/>
<line x1="118.5" y1="562.0" x2="132.5" y2="562.0" stroke="#000" stroke-width="2.9" stroke-linecap="butt"/>
<text x="116.5" y="571.0" font-size="20.5" text-anchor="end">150</text>
<line x1="118.5" y1="660.1" x2="132.5" y2="660.1" stroke="#000" stroke-width="2.9" stroke-linecap="butt"/>
<text x="116.5" y="669.1" font-size="20.5" text-anchor="end">100</text>
<line x1="118.5" y1="758.3" x2="132.5" y2="758.3" stroke="#000" stroke-width="2.9" stroke-linecap="butt"/>
<text x="116.5" y="767.3" font-size="20.5" text-anchor="end">50</text>
<line x1="118.5" y1="856.5" x2="132.5" y2="856.5" stroke="#000" stroke-width="2.9" stroke-linecap="butt"/>
<text x="116.5" y="865.5" font-size="20.5" text-anchor="end">0</text>
<line x1="159.9" y1="856.5" x2="159.9" y2="870.3" stroke="#000" stroke-width="2.9" stroke-linecap="butt"/>
<line x1="202.6" y1="856.5" x2="202.6" y2="870.3" stroke="#000" stroke-width="2.9" stroke-linecap="butt"/>
<line x1="245.2" y1="856.5" x2="245.2" y2="870.3" stroke="#000" stroke-width="2.9" stroke-linecap="butt"/>
<line x1="287.8" y1="856.5" x2="287.8" y2="870.3" stroke="#000" stroke-width="2.9" stroke-linecap="butt"/>
<line x1="330.5" y1="856.5" x2="330.5" y2="870.3" stroke="#000" stroke-width="2.9" stroke-linecap="butt"/>
<line x1="373.1" y1="856.5" x2="373.1" y2="870.3" stroke="#000" stroke-width="2.9" stroke-linecap="butt"/>
<text x="244.7" y="721.9" font-size="24.5" text-anchor="middle" font-weight="normal">ns</text>
<text x="290.5" y="767.6" font-size="24" text-anchor="middle" font-weight="normal">****</text>
<text x="331.3" y="784.7" font-size="24" text-anchor="middle" font-weight="normal">****</text>
<text x="159.9" y="892.4" font-size="21" text-anchor="middle">NC</text>
<text x="202.6" y="892.4" font-size="21" text-anchor="middle">0</text>
<text x="245.2" y="892.4" font-size="21" text-anchor="middle">1</text>
<text x="287.8" y="892.4" font-size="21" text-anchor="middle">10</text>
<text x="330.5" y="892.4" font-size="21" text-anchor="middle">50</text>
<text x="366.5" y="892.4" font-size="21" text-anchor="start" textLength="57.3" lengthAdjust="spacingAndGlyphs">Triton</text>
<text x="0.0" y="892.4" font-size="21.7" text-anchor="start" textLength="125.3" lengthAdjust="spacingAndGlyphs">hCitH3-mAb</text>
<text x="31.4" y="920.4" font-size="22" text-anchor="start" textLength="65.0" lengthAdjust="spacingAndGlyphs">µg/mL</text>
<text x="238.5" y="932.4" font-size="22.4" text-anchor="start" textLength="144.5" lengthAdjust="spacingAndGlyphs">CitH3 peptide</text>
<text x="201.8" y="551.3" font-size="26" text-anchor="start" textLength="148.2" lengthAdjust="spacingAndGlyphs">hCitH3-mAb</text>
<text font-size="24" text-anchor="start" textLength="295.8" lengthAdjust="spacingAndGlyphs" transform="translate(63.2 857.8) rotate(-90)" x="0" y="8.6">LDH Release (% of Triton)</text>
<line x1="178.0" y1="905.0" x2="435.8" y2="905.0" stroke="#000" stroke-width="2.8" stroke-linecap="butt"/>
</g>
<g id="cR">
<rect x="610.5" y="834.8" width="24.1" height="20.8" fill="#fff"/>
<path d="M610.5,856.7V834.8H634.6V856.7" fill="none" stroke="#000" stroke-width="4.7"/>
<rect x="654.5" y="765.5" width="24.1" height="90.1" fill="#d4d4d4"/>
<path d="M654.5,856.7V765.5H678.6V856.7" fill="none" stroke="#000" stroke-width="4.7"/>
<rect x="698.5" y="774.9" width="24.1" height="80.8" fill="#fdbfe0"/>
<path d="M698.5,856.7V774.9H722.6V856.7" fill="none" stroke="#000" stroke-width="4.7"/>
<rect x="742.5" y="772.2" width="24.1" height="83.5" fill="#f893c3"/>
<path d="M742.5,856.7V772.2H766.6V856.7" fill="none" stroke="#000" stroke-width="4.7"/>
<rect x="785.9" y="774.3" width="24.1" height="81.3" fill="#f4147f"/>
<path d="M785.9,856.7V774.3H810.0V856.7" fill="none" stroke="#000" stroke-width="4.7"/>
<rect x="829.6" y="673.6" width="24.1" height="182.1" fill="#646464"/>
<path d="M829.6,856.7V673.6H853.7V856.7" fill="none" stroke="#000" stroke-width="4.7"/>
<line x1="622.6" y1="827.1" x2="622.6" y2="836.5" stroke="#000" stroke-width="1.8" stroke-linecap="butt"/>
<line x1="613.6" y1="827.1" x2="631.6" y2="827.1" stroke="#000" stroke-width="1.8" stroke-linecap="butt"/>
<line x1="613.6" y1="836.5" x2="631.6" y2="836.5" stroke="#000" stroke-width="1.8" stroke-linecap="butt"/>
<line x1="666.6" y1="757.3" x2="666.6" y2="768.5" stroke="#000" stroke-width="1.8" stroke-linecap="butt"/>
<line x1="657.6" y1="757.3" x2="675.6" y2="757.3" stroke="#000" stroke-width="1.8" stroke-linecap="butt"/>
<line x1="657.6" y1="768.5" x2="675.6" y2="768.5" stroke="#000" stroke-width="1.8" stroke-linecap="butt"/>
<line x1="710.5" y1="763.2" x2="710.5" y2="779.2" stroke="#000" stroke-width="1.8" stroke-linecap="butt"/>
<line x1="701.5" y1="763.2" x2="719.5" y2="763.2" stroke="#000" stroke-width="1.8" stroke-linecap="butt"/>
<line x1="701.5" y1="779.2" x2="719.5" y2="779.2" stroke="#000" stroke-width="1.8" stroke-linecap="butt"/>
<line x1="754.5" y1="758.4" x2="754.5" y2="779.2" stroke="#000" stroke-width="1.8" stroke-linecap="butt"/>
<line x1="745.5" y1="758.4" x2="763.5" y2="758.4" stroke="#000" stroke-width="1.8" stroke-linecap="butt"/>
<line x1="745.5" y1="779.2" x2="763.5" y2="779.2" stroke="#000" stroke-width="1.8" stroke-linecap="butt"/>
<line x1="798.0" y1="761.8" x2="798.0" y2="780.5" stroke="#000" stroke-width="1.8" stroke-linecap="butt"/>
<line x1="789.0" y1="761.8" x2="807.0" y2="761.8" stroke="#000" stroke-width="1.8" stroke-linecap="butt"/>
<line x1="789.0" y1="780.5" x2="807.0" y2="780.5" stroke="#000" stroke-width="1.8" stroke-linecap="butt"/>
<line x1="841.7" y1="665.9" x2="841.7" y2="676.6" stroke="#000" stroke-width="1.8" stroke-linecap="butt"/>
<line x1="832.7" y1="665.9" x2="850.7" y2="665.9" stroke="#000" stroke-width="1.8" stroke-linecap="butt"/>
<line x1="832.7" y1="676.6" x2="850.7" y2="676.6" stroke="#000" stroke-width="1.8" stroke-linecap="butt"/>
<circle cx="616.5" cy="825.8" r="5.7"/>
<circle cx="625.3" cy="827.1" r="5.7"/>
<circle cx="632.5" cy="827.1" r="5.7"/>
<circle cx="614.6" cy="834.6" r="5.7"/>
<circle cx="621.3" cy="833.8" r="5.7"/>
<circle cx="628.7" cy="835.7" r="5.7"/>
<circle cx="663.9" cy="756.5" r="5.7"/>
<circle cx="670.6" cy="757.3" r="5.7"/>
<circle cx="677.2" cy="762.6" r="5.7"/>
<circle cx="657.2" cy="765.3" r="5.7"/>
<circle cx="670.6" cy="769.8" r="5.7"/>
<circle cx="663.4" cy="779.2" r="5.7"/>
<circle cx="710.5" cy="761.0" r="5.7"/>
<circle cx="720.7" cy="765.3" r="5.7"/>
<circle cx="701.2" cy="768.5" r="5.7"/>
<circle cx="711.3" cy="773.3" r="5.7"/>
<circle cx="720.7" cy="776.5" r="5.7"/>
<circle cx="702.0" cy="784.5" r="5.7"/>
<circle cx="754.5" cy="750.4" r="5.7"/>
<circle cx="745.2" cy="763.2" r="5.7"/>
<circle cx="754.5" cy="773.3" r="5.7"/>
<circle cx="762.5" cy="772.5" r="5.7"/>
<circle cx="749.2" cy="776.5" r="5.7"/>
<circle cx="745.2" cy="779.2" r="5.7"/>
<circle cx="807.3" cy="756.5" r="5.7"/>
<circle cx="789.2" cy="766.4" r="5.7"/>
<circle cx="807.3" cy="768.0" r="5.7"/>
<circle cx="798.0" cy="776.5" r="5.7"/>
<circle cx="807.3" cy="779.2" r="5.7"/>
<circle cx="790.5" cy="780.5" r="5.7"/>
<circle cx="833.1" cy="663.2" r="5.7"/>
<circle cx="845.1" cy="660.6" r="5.7"/>
<circle cx="851.8" cy="671.2" r="5.7"/>
<circle cx="838.5" cy="672.6" r="5.7"/>
<circle cx="833.1" cy="676.6" r="5.7"/>
<circle cx="846.5" cy="676.6" r="5.7"/>
<line x1="593.8" y1="574.6" x2="593.8" y2="857.1" stroke="#000" stroke-width="2.9" stroke-linecap="butt"/>
<line x1="580.7" y1="855.7" x2="874.5" y2="855.7" stroke="#000" stroke-width="2.9" stroke-linecap="butt"/>
<line x1="579.8" y1="576.1" x2="593.8" y2="576.1" stroke="#000" stroke-width="2.9" stroke-linecap="butt"/>
<text x="577.8" y="585.1" font-size="20.5" text-anchor="end">150</text>
<line x1="579.8" y1="669.3" x2="593.8" y2="669.3" stroke="#000" stroke-width="2.9" stroke-linecap="butt"/>
<text x="577.8" y="678.3" font-size="20.5" text-anchor="end">100</text>
<line x1="579.8" y1="762.5" x2="593.8" y2="762.5" stroke="#000" stroke-width="2.9" stroke-linecap="butt"/>
<text x="577.8" y="771.5" font-size="20.5" text-anchor="end">50</text>
<line x1="579.8" y1="855.7" x2="593.8" y2="855.7" stroke="#000" stroke-width="2.9" stroke-linecap="butt"/>
<text x="577.8" y="864.7" font-size="20.5" text-anchor="end">0</text>
<line x1="622.6" y1="855.7" x2="622.6" y2="869.5" stroke="#000" stroke-width="2.9" stroke-linecap="butt"/>
<line x1="666.6" y1="855.7" x2="666.6" y2="869.5" stroke="#000" stroke-width="2.9" stroke-linecap="butt"/>
<line x1="710.5" y1="855.7" x2="710.5" y2="869.5" stroke="#000" stroke-width="2.9" stroke-linecap="butt"/>
<line x1="754.5" y1="855.7" x2="754.5" y2="869.5" stroke="#000" stroke-width="2.9" stroke-linecap="butt"/>
<line x1="798.0" y1="855.7" x2="798.0" y2="869.5" stroke="#000" stroke-width="2.9" stroke-linecap="butt"/>
<line x1="841.7" y1="855.7" x2="841.7" y2="869.5" stroke="#000" stroke-width="2.9" stroke-linecap="butt"/>
<text x="711.3" y="737.3" font-size="24.5" text-anchor="middle" font-weight="normal">ns</text>
<text x="753.7" y="729.9" font-size="24.5" text-anchor="middle" font-weight="normal">ns</text>
<text x="797.2" y="733.9" font-size="24.5" text-anchor="middle" font-weight="normal">ns</text>
<text x="622.6" y="889.8" font-size="21" text-anchor="middle">NC</text>
<text x="666.6" y="889.8" font-size="21" text-anchor="middle">0</text>
<text x="710.5" y="889.8" font-size="21" text-anchor="middle">1</text>
<text x="754.5" y="889.8" font-size="21" text-anchor="middle">10</text>
<text x="798.0" y="889.8" font-size="21" text-anchor="middle">50</text>
<text x="839.8" y="889.8" font-size="21" text-anchor="start" textLength="57.3" lengthAdjust="spacingAndGlyphs">Triton</text>
<text x="541.8" y="889.0" font-size="22" textLength="37.3" lengthAdjust="spacingAndGlyphs">Ig<tspan font-weight="normal">G</tspan></text>
<text x="530.6" y="921.2" font-size="22.5" text-anchor="start" textLength="66.6" lengthAdjust="spacingAndGlyphs">µg/mL</text>
<text x="707.9" y="931.1" font-size="23" text-anchor="start" textLength="148.5" lengthAdjust="spacingAndGlyphs">CitH3 peptide</text>
<text x="711.1" y="551.3" font-size="26" text-anchor="start" textLength="42.9" lengthAdjust="spacingAndGlyphs">IgG</text>
<text font-size="23" text-anchor="start" textLength="280.4" lengthAdjust="spacingAndGlyphs" transform="translate(524.0 856.5) rotate(-90)" x="0" y="8.3">LDH Release (% of Triton)</text>
<line x1="635.9" y1="901.0" x2="903.2" y2="901.0" stroke="#000" stroke-width="2.8" stroke-linecap="butt"/>
</g>
<g id="dL">
<rect x="1119.7" y="654.9" width="30.7" height="200.7" fill="#fff"/>
<path d="M1119.7,856.7V654.9H1150.5V856.7" fill="none" stroke="#000" stroke-width="4.7"/>
<rect x="1172.0" y="720.2" width="30.7" height="135.4" fill="#d4d4d4"/>
<path d="M1172.0,856.7V720.2H1202.7V856.7" fill="none" stroke="#000" stroke-width="4.7"/>
<rect x="1223.9" y="697.6" width="30.7" height="158.1" fill="#c0c0ff"/>
<path d="M1223.9,856.7V697.6H1254.7V856.7" fill="none" stroke="#000" stroke-width="4.7"/>
<rect x="1276.4" y="680.2" width="30.7" height="175.4" fill="#9090ff"/>
<path d="M1276.4,856.7V680.2H1307.2V856.7" fill="none" stroke="#000" stroke-width="4.7"/>
<rect x="1328.4" y="663.4" width="30.7" height="192.2" fill="#5a5af8"/>
<path d="M1328.4,856.7V663.4H1359.2V856.7" fill="none" stroke="#000" stroke-width="4.7"/>
<line x1="1135.1" y1="632.6" x2="1135.1" y2="669.9" stroke="#000" stroke-width="1.8" stroke-linecap="butt"/>
<line x1="1125.1" y1="632.6" x2="1145.1" y2="632.6" stroke="#000" stroke-width="1.8" stroke-linecap="butt"/>
<line x1="1125.1" y1="669.9" x2="1145.1" y2="669.9" stroke="#000" stroke-width="1.8" stroke-linecap="butt"/>
<line x1="1187.3" y1="704.5" x2="1187.3" y2="732.0" stroke="#000" stroke-width="1.8" stroke-linecap="butt"/>
<line x1="1177.3" y1="704.5" x2="1197.3" y2="704.5" stroke="#000" stroke-width="1.8" stroke-linecap="butt"/>
<line x1="1177.3" y1="732.0" x2="1197.3" y2="732.0" stroke="#000" stroke-width="1.8" stroke-linecap="butt"/>
<line x1="1239.3" y1="673.1" x2="1239.3" y2="715.2" stroke="#000" stroke-width="1.8" stroke-linecap="butt"/>
<line x1="1229.3" y1="673.1" x2="1249.3" y2="673.1" stroke="#000" stroke-width="1.8" stroke-linecap="butt"/>
<line x1="1229.3" y1="715.2" x2="1249.3" y2="715.2" stroke="#000" stroke-width="1.8" stroke-linecap="butt"/>
<line x1="1291.8" y1="661.9" x2="1291.8" y2="693.3" stroke="#000" stroke-width="1.8" stroke-linecap="butt"/>
<line x1="1281.8" y1="661.9" x2="1301.8" y2="661.9" stroke="#000" stroke-width="1.8" stroke-linecap="butt"/>
<line x1="1281.8" y1="693.3" x2="1301.8" y2="693.3" stroke="#000" stroke-width="1.8" stroke-linecap="butt"/>
<line x1="1343.8" y1="644.6" x2="1343.8" y2="676.6" stroke="#000" stroke-width="1.8" stroke-linecap="butt"/>
<line x1="1333.8" y1="644.6" x2="1353.8" y2="644.6" stroke="#000" stroke-width="1.8" stroke-linecap="butt"/>
<line x1="1333.8" y1="676.6" x2="1353.8" y2="676.6" stroke="#000" stroke-width="1.8" stroke-linecap="butt"/>
<circle cx="1123.4" cy="627.2" r="5.7"/>
<circle cx="1147.9" cy="633.4" r="5.7"/>
<circle cx="1147.9" cy="647.2" r="5.7"/>
<circle cx="1123.4" cy="657.4" r="5.7"/>
<circle cx="1147.9" cy="661.4" r="5.7"/>
<circle cx="1135.1" cy="677.4" r="5.7"/>
<circle cx="1175.9" cy="709.9" r="5.7"/>
<circle cx="1182.5" cy="708.0" r="5.7"/>
<circle cx="1191.9" cy="708.0" r="5.7"/>
<circle cx="1199.9" cy="711.2" r="5.7"/>
<circle cx="1190.5" cy="721.3" r="5.7"/>
<circle cx="1187.3" cy="744.5" r="5.7"/>
<circle cx="1251.8" cy="668.6" r="5.7"/>
<circle cx="1227.9" cy="676.6" r="5.7"/>
<circle cx="1251.8" cy="685.9" r="5.7"/>
<circle cx="1227.9" cy="696.0" r="5.7"/>
<circle cx="1239.3" cy="708.0" r="5.7"/>
<circle cx="1239.3" cy="726.7" r="5.7"/>
<circle cx="1279.8" cy="664.0" r="5.7"/>
<circle cx="1291.8" cy="669.9" r="5.7"/>
<circle cx="1303.8" cy="669.9" r="5.7"/>
<circle cx="1286.5" cy="675.2" r="5.7"/>
<circle cx="1295.8" cy="683.2" r="5.7"/>
<circle cx="1291.8" cy="707.2" r="5.7"/>
<circle cx="1331.8" cy="638.7" r="5.7"/>
<circle cx="1355.8" cy="648.0" r="5.7"/>
<circle cx="1343.8" cy="653.9" r="5.7"/>
<circle cx="1343.8" cy="670.4" r="5.7"/>
<circle cx="1355.8" cy="672.6" r="5.7"/>
<circle cx="1332.3" cy="680.6" r="5.7"/>
<line x1="1101.3" y1="546.4" x2="1101.3" y2="857.1" stroke="#000" stroke-width="2.9" stroke-linecap="butt"/>
<line x1="1087.9" y1="855.7" x2="1381.1" y2="855.7" stroke="#000" stroke-width="2.9" stroke-linecap="butt"/>
<line x1="1087.3" y1="547.8" x2="1101.3" y2="547.8" stroke="#000" stroke-width="2.9" stroke-linecap="butt"/>
<text x="1085.3" y="556.8" font-size="20.5" text-anchor="end">150</text>
<line x1="1087.3" y1="650.4" x2="1101.3" y2="650.4" stroke="#000" stroke-width="2.9" stroke-linecap="butt"/>
<text x="1085.3" y="659.4" font-size="20.5" text-anchor="end">100</text>
<line x1="1087.3" y1="753.0" x2="1101.3" y2="753.0" stroke="#000" stroke-width="2.9" stroke-linecap="butt"/>
<text x="1085.3" y="762.0" font-size="20.5" text-anchor="end">50</text>
<line x1="1087.3" y1="855.7" x2="1101.3" y2="855.7" stroke="#000" stroke-width="2.9" stroke-linecap="butt"/>
<text x="1085.3" y="864.7" font-size="20.5" text-anchor="end">0</text>
<line x1="1135.1" y1="855.7" x2="1135.1" y2="869.5" stroke="#000" stroke-width="2.9" stroke-linecap="butt"/>
<line x1="1187.3" y1="855.7" x2="1187.3" y2="869.5" stroke="#000" stroke-width="2.9" stroke-linecap="butt"/>
<line x1="1239.3" y1="855.7" x2="1239.3" y2="869.5" stroke="#000" stroke-width="2.9" stroke-linecap="butt"/>
<line x1="1291.8" y1="855.7" x2="1291.8" y2="869.5" stroke="#000" stroke-width="2.9" stroke-linecap="butt"/>
<line x1="1343.8" y1="855.7" x2="1343.8" y2="869.5" stroke="#000" stroke-width="2.9" stroke-linecap="butt"/>
<text x="1238.5" y="656.6" font-size="24.5" text-anchor="middle" font-weight="normal">ns</text>
<text x="1291.8" y="648.2" font-size="24" text-anchor="middle" font-weight="normal">**</text>
<text x="1344.6" y="618.9" font-size="24" text-anchor="middle" font-weight="normal">****</text>
<text x="1135.1" y="892.4" font-size="21" text-anchor="middle">NC</text>
<text x="1187.3" y="892.4" font-size="21" text-anchor="middle">0</text>
<text x="1239.3" y="892.4" font-size="21" text-anchor="middle">1</text>
<text x="1291.8" y="892.4" font-size="21" text-anchor="middle">10</text>
<text x="1343.8" y="892.4" font-size="21" text-anchor="middle">50</text>
<text x="965.3" y="892.4" font-size="22.5" text-anchor="start" textLength="130.6" lengthAdjust="spacingAndGlyphs">hCitH3-mAb</text>
<text x="997.3" y="929.8" font-size="22.5" text-anchor="start" textLength="66.6" lengthAdjust="spacingAndGlyphs">µg/mL</text>
<text x="1193.7" y="937.8" font-size="23" text-anchor="start" textLength="147.4" lengthAdjust="spacingAndGlyphs">CitH3 peptide</text>
<text x="1179.9" y="536.6" font-size="26.5" text-anchor="start" textLength="151.9" lengthAdjust="spacingAndGlyphs">hCitH3-mAb</text>
<text font-size="25" text-anchor="start" textLength="269.2" lengthAdjust="spacingAndGlyphs" transform="translate(1030.6 836.5) rotate(-90)" x="0" y="9.0">Cell Viability (% of NC)</text>
<line x1="1150.6" y1="907.9" x2="1374.4" y2="907.9" stroke="#000" stroke-width="2.8" stroke-linecap="butt"/>
</g>
<g id="dR">
<rect x="1578.7" y="661.6" width="33.1" height="198.1" fill="#fff"/>
<path d="M1578.7,860.7V661.6H1611.8V860.7" fill="none" stroke="#000" stroke-width="4.7"/>
<rect x="1635.5" y="742.9" width="33.1" height="116.8" fill="#d4d4d4"/>
<path d="M1635.5,860.7V742.9H1668.6V860.7" fill="none" stroke="#000" stroke-width="4.7"/>
<rect x="1692.5" y="750.1" width="33.1" height="109.6" fill="#fdbfe0"/>
<path d="M1692.5,860.7V750.1H1725.6V860.7" fill="none" stroke="#000" stroke-width="4.7"/>
<rect x="1749.3" y="747.4" width="33.1" height="112.3" fill="#f893c3"/>
<path d="M1749.3,860.7V747.4H1782.4V860.7" fill="none" stroke="#000" stroke-width="4.7"/>
<rect x="1806.6" y="730.3" width="33.1" height="129.3" fill="#f86090"/>
<path d="M1806.6,860.7V730.3H1839.7V860.7" fill="none" stroke="#000" stroke-width="4.7"/>
<line x1="1595.3" y1="648.0" x2="1595.3" y2="667.2" stroke="#000" stroke-width="1.8" stroke-linecap="butt"/>
<line x1="1585.3" y1="648.0" x2="1605.3" y2="648.0" stroke="#000" stroke-width="1.8" stroke-linecap="butt"/>
<line x1="1585.3" y1="667.2" x2="1605.3" y2="667.2" stroke="#000" stroke-width="1.8" stroke-linecap="butt"/>
<line x1="1652.0" y1="722.7" x2="1652.0" y2="755.7" stroke="#000" stroke-width="1.8" stroke-linecap="butt"/>
<line x1="1642.0" y1="722.7" x2="1662.0" y2="722.7" stroke="#000" stroke-width="1.8" stroke-linecap="butt"/>
<line x1="1642.0" y1="755.7" x2="1662.0" y2="755.7" stroke="#000" stroke-width="1.8" stroke-linecap="butt"/>
<line x1="1709.1" y1="737.3" x2="1709.1" y2="755.2" stroke="#000" stroke-width="1.8" stroke-linecap="butt"/>
<line x1="1699.1" y1="737.3" x2="1719.1" y2="737.3" stroke="#000" stroke-width="1.8" stroke-linecap="butt"/>
<line x1="1699.1" y1="755.2" x2="1719.1" y2="755.2" stroke="#000" stroke-width="1.8" stroke-linecap="butt"/>
<line x1="1765.8" y1="732.5" x2="1765.8" y2="755.2" stroke="#000" stroke-width="1.8" stroke-linecap="butt"/>
<line x1="1755.8" y1="732.5" x2="1775.8" y2="732.5" stroke="#000" stroke-width="1.8" stroke-linecap="butt"/>
<line x1="1755.8" y1="755.2" x2="1775.8" y2="755.2" stroke="#000" stroke-width="1.8" stroke-linecap="butt"/>
<line x1="1823.1" y1="714.7" x2="1823.1" y2="738.7" stroke="#000" stroke-width="1.8" stroke-linecap="butt"/>
<line x1="1813.1" y1="714.7" x2="1833.1" y2="714.7" stroke="#000" stroke-width="1.8" stroke-linecap="butt"/>
<line x1="1813.1" y1="738.7" x2="1833.1" y2="738.7" stroke="#000" stroke-width="1.8" stroke-linecap="butt"/>
<circle cx="1581.9" cy="645.9" r="5.7"/>
<circle cx="1596.6" cy="653.9" r="5.7"/>
<circle cx="1609.4" cy="653.4" r="5.7"/>
<circle cx="1609.4" cy="667.8" r="5.7"/>
<circle cx="1582.7" cy="669.9" r="5.7"/>
<circle cx="1639.2" cy="720.5" r="5.7"/>
<circle cx="1665.9" cy="728.0" r="5.7"/>
<circle cx="1639.2" cy="736.5" r="5.7"/>
<circle cx="1639.2" cy="757.8" r="5.7"/>
<circle cx="1665.9" cy="757.8" r="5.7"/>
<circle cx="1722.4" cy="735.7" r="5.7"/>
<circle cx="1695.7" cy="741.3" r="5.7"/>
<circle cx="1709.1" cy="748.5" r="5.7"/>
<circle cx="1722.4" cy="755.2" r="5.7"/>
<circle cx="1696.5" cy="757.8" r="5.7"/>
<circle cx="1765.8" cy="724.5" r="5.7"/>
<circle cx="1760.5" cy="742.4" r="5.7"/>
<circle cx="1779.2" cy="748.5" r="5.7"/>
<circle cx="1753.8" cy="755.2" r="5.7"/>
<circle cx="1772.5" cy="753.0" r="5.7"/>
<circle cx="1809.8" cy="718.7" r="5.7"/>
<circle cx="1823.1" cy="716.5" r="5.7"/>
<circle cx="1836.5" cy="721.9" r="5.7"/>
<circle cx="1823.1" cy="733.9" r="5.7"/>
<circle cx="1823.1" cy="745.9" r="5.7"/>
<line x1="1557.1" y1="554.4" x2="1557.1" y2="861.1" stroke="#000" stroke-width="2.9" stroke-linecap="butt"/>
<line x1="1543.8" y1="859.7" x2="1863.7" y2="859.7" stroke="#000" stroke-width="2.9" stroke-linecap="butt"/>
<line x1="1543.1" y1="555.8" x2="1557.1" y2="555.8" stroke="#000" stroke-width="2.9" stroke-linecap="butt"/>
<text x="1541.1" y="564.8" font-size="21.5" text-anchor="end">1.5</text>
<line x1="1543.1" y1="657.1" x2="1557.1" y2="657.1" stroke="#000" stroke-width="2.9" stroke-linecap="butt"/>
<text x="1541.1" y="666.1" font-size="21.5" text-anchor="end">1.0</text>
<line x1="1543.1" y1="758.4" x2="1557.1" y2="758.4" stroke="#000" stroke-width="2.9" stroke-linecap="butt"/>
<text x="1541.1" y="767.4" font-size="21.5" text-anchor="end">0.5</text>
<line x1="1543.1" y1="859.7" x2="1557.1" y2="859.7" stroke="#000" stroke-width="2.9" stroke-linecap="butt"/>
<text x="1541.1" y="868.7" font-size="21.5" text-anchor="end">0.0</text>
<line x1="1595.3" y1="859.7" x2="1595.3" y2="873.5" stroke="#000" stroke-width="2.9" stroke-linecap="butt"/>
<line x1="1652.0" y1="859.7" x2="1652.0" y2="873.5" stroke="#000" stroke-width="2.9" stroke-linecap="butt"/>
<line x1="1709.1" y1="859.7" x2="1709.1" y2="873.5" stroke="#000" stroke-width="2.9" stroke-linecap="butt"/>
<line x1="1765.8" y1="859.7" x2="1765.8" y2="873.5" stroke="#000" stroke-width="2.9" stroke-linecap="butt"/>
<line x1="1823.1" y1="859.7" x2="1823.1" y2="873.5" stroke="#000" stroke-width="2.9" stroke-linecap="butt"/>
<text x="1707.2" y="713.9" font-size="24.5" text-anchor="middle" font-weight="normal">ns</text>
<text x="1764.5" y="703.2" font-size="24.5" text-anchor="middle" font-weight="normal">ns</text>
<text x="1822.3" y="696.0" font-size="24.5" text-anchor="middle" font-weight="normal">ns</text>
<text x="1595.3" y="895.9" font-size="22" text-anchor="middle">NC</text>
<text x="1652.0" y="895.9" font-size="22" text-anchor="middle">0</text>
<text x="1709.1" y="895.9" font-size="22" text-anchor="middle">1</text>
<text x="1765.8" y="895.9" font-size="22" text-anchor="middle">10</text>
<text x="1823.1" y="895.9" font-size="22" text-anchor="middle">50</text>
<text x="1503.3" y="895.9" font-size="25" text-anchor="start" textLength="42.1" lengthAdjust="spacingAndGlyphs">IgG</text>
<text x="1486.8" y="930.3" font-size="25" text-anchor="start" textLength="74.6" lengthAdjust="spacingAndGlyphs">µg/mL</text>
<text x="1653.9" y="940.4" font-size="25" text-anchor="start" textLength="161.2" lengthAdjust="spacingAndGlyphs">CitH3 peptide</text>
<text x="1686.4" y="544.6" font-size="27.5" text-anchor="start" textLength="46.1" lengthAdjust="spacingAndGlyphs">IgG</text>
<text font-size="25" text-anchor="start" textLength="266.5" lengthAdjust="spacingAndGlyphs" transform="translate(1483.9 840.5) rotate(-90)" x="0" y="9.0">Cell Viability (% of NC)</text>
<line x1="1614.4" y1="911.6" x2="1845.8" y2="911.6" stroke="#000" stroke-width="2.8" stroke-linecap="butt"/>
</g>
<g id="g1">
<rect x="167.2" y="1924.3" width="23.4" height="13.0" fill="#fff"/>
<path d="M167.2,1938.4V1924.3H190.6V1938.4" fill="none" stroke="#000" stroke-width="4.7"/>
<rect x="210.0" y="1738.6" width="23.4" height="198.8" fill="#a1a1a6"/>
<path d="M210.0,1938.4V1738.6H233.4V1938.4" fill="none" stroke="#000" stroke-width="4.7"/>
<rect x="252.8" y="1741.0" width="23.4" height="196.4" fill="#f4147f"/>
<path d="M252.8,1938.4V1741.0H276.2V1938.4" fill="none" stroke="#000" stroke-width="4.7"/>
<rect x="295.6" y="1766.7" width="23.4" height="170.7" fill="#c0c0ff"/>
<path d="M295.6,1938.4V1766.7H319.0V1938.4" fill="none" stroke="#000" stroke-width="4.7"/>
<rect x="338.3" y="1810.7" width="23.4" height="126.7" fill="#9090ff"/>
<path d="M338.3,1938.4V1810.7H361.7V1938.4" fill="none" stroke="#000" stroke-width="4.7"/>
<rect x="381.1" y="1877.2" width="23.4" height="60.2" fill="#0000ff"/>
<path d="M381.1,1938.4V1877.2H404.5V1938.4" fill="none" stroke="#000" stroke-width="4.7"/>
<line x1="178.9" y1="1910.3" x2="178.9" y2="1931.8" stroke="#000" stroke-width="1.8" stroke-linecap="butt"/>
<line x1="169.9" y1="1910.3" x2="187.9" y2="1910.3" stroke="#000" stroke-width="1.8" stroke-linecap="butt"/>
<line x1="169.9" y1="1931.8" x2="187.9" y2="1931.8" stroke="#000" stroke-width="1.8" stroke-linecap="butt"/>
<line x1="221.7" y1="1716.7" x2="221.7" y2="1753.3" stroke="#000" stroke-width="1.8" stroke-linecap="butt"/>
<line x1="212.7" y1="1716.7" x2="230.7" y2="1716.7" stroke="#000" stroke-width="1.8" stroke-linecap="butt"/>
<line x1="212.7" y1="1753.3" x2="230.7" y2="1753.3" stroke="#000" stroke-width="1.8" stroke-linecap="butt"/>
<line x1="264.5" y1="1722.0" x2="264.5" y2="1761.9" stroke="#000" stroke-width="1.8" stroke-linecap="butt"/>
<line x1="255.5" y1="1722.0" x2="273.5" y2="1722.0" stroke="#000" stroke-width="1.8" stroke-linecap="butt"/>
<line x1="255.5" y1="1761.9" x2="273.5" y2="1761.9" stroke="#000" stroke-width="1.8" stroke-linecap="butt"/>
<line x1="307.3" y1="1738.2" x2="307.3" y2="1788.8" stroke="#000" stroke-width="1.8" stroke-linecap="butt"/>
<line x1="298.3" y1="1738.2" x2="316.3" y2="1738.2" stroke="#000" stroke-width="1.8" stroke-linecap="butt"/>
<line x1="298.3" y1="1788.8" x2="316.3" y2="1788.8" stroke="#000" stroke-width="1.8" stroke-linecap="butt"/>
<line x1="350.0" y1="1784.6" x2="350.0" y2="1831.1" stroke="#000" stroke-width="1.8" stroke-linecap="butt"/>
<line x1="341.0" y1="1784.6" x2="359.0" y2="1784.6" stroke="#000" stroke-width="1.8" stroke-linecap="butt"/>
<line x1="341.0" y1="1831.1" x2="359.0" y2="1831.1" stroke="#000" stroke-width="1.8" stroke-linecap="butt"/>
<line x1="392.8" y1="1848.2" x2="392.8" y2="1900.0" stroke="#000" stroke-width="1.8" stroke-linecap="butt"/>
<line x1="383.8" y1="1848.2" x2="401.8" y2="1848.2" stroke="#000" stroke-width="1.8" stroke-linecap="butt"/>
<line x1="383.8" y1="1900.0" x2="401.8" y2="1900.0" stroke="#000" stroke-width="1.8" stroke-linecap="butt"/>
<circle cx="169.9" cy="1906.8" r="5.7"/>
<circle cx="188.2" cy="1910.3" r="5.7"/>
<circle cx="178.9" cy="1923.2" r="5.7"/>
<circle cx="168.7" cy="1924.4" r="5.7"/>
<circle cx="188.2" cy="1929.3" r="5.7"/>
<circle cx="169.9" cy="1934.2" r="5.7"/>
<circle cx="221.7" cy="1705.7" r="5.7"/>
<circle cx="221.7" cy="1717.9" r="5.7"/>
<circle cx="211.4" cy="1738.7" r="5.7"/>
<circle cx="229.8" cy="1738.7" r="5.7"/>
<circle cx="213.9" cy="1753.3" r="5.7"/>
<circle cx="229.8" cy="1752.1" r="5.7"/>
<circle cx="264.5" cy="1705.7" r="5.7"/>
<circle cx="255.4" cy="1738.7" r="5.7"/>
<circle cx="272.5" cy="1742.3" r="5.7"/>
<circle cx="264.5" cy="1750.9" r="5.7"/>
<circle cx="264.5" cy="1758.2" r="5.7"/>
<circle cx="264.5" cy="1768.0" r="5.7"/>
<circle cx="307.3" cy="1723.3" r="5.7"/>
<circle cx="298.7" cy="1750.9" r="5.7"/>
<circle cx="316.5" cy="1759.4" r="5.7"/>
<circle cx="298.7" cy="1774.1" r="5.7"/>
<circle cx="316.5" cy="1774.1" r="5.7"/>
<circle cx="307.3" cy="1798.6" r="5.7"/>
<circle cx="350.0" cy="1773.6" r="5.7"/>
<circle cx="341.0" cy="1791.2" r="5.7"/>
<circle cx="359.3" cy="1801.0" r="5.7"/>
<circle cx="350.0" cy="1816.9" r="5.7"/>
<circle cx="341.5" cy="1832.8" r="5.7"/>
<circle cx="358.8" cy="1832.8" r="5.7"/>
<circle cx="392.8" cy="1839.6" r="5.7"/>
<circle cx="392.8" cy="1853.5" r="5.7"/>
<circle cx="392.8" cy="1867.0" r="5.7"/>
<circle cx="392.8" cy="1882.9" r="5.7"/>
<circle cx="385.0" cy="1902.9" r="5.7"/>
<circle cx="402.1" cy="1901.2" r="5.7"/>
<line x1="150.3" y1="1662.7" x2="150.3" y2="1938.8" stroke="#000" stroke-width="2.9" stroke-linecap="butt"/>
<line x1="138.1" y1="1937.4" x2="424.1" y2="1937.4" stroke="#000" stroke-width="2.9" stroke-linecap="butt"/>
<line x1="136.3" y1="1664.1" x2="150.3" y2="1664.1" stroke="#000" stroke-width="2.9" stroke-linecap="butt"/>
<text x="135.3" y="1673.1" font-size="21.5" text-anchor="end">80</text>
<line x1="136.3" y1="1732.4" x2="150.3" y2="1732.4" stroke="#000" stroke-width="2.9" stroke-linecap="butt"/>
<text x="135.3" y="1741.4" font-size="21.5" text-anchor="end">60</text>
<line x1="136.3" y1="1800.8" x2="150.3" y2="1800.8" stroke="#000" stroke-width="2.9" stroke-linecap="butt"/>
<text x="135.3" y="1809.8" font-size="21.5" text-anchor="end">40</text>
<line x1="136.3" y1="1869.1" x2="150.3" y2="1869.1" stroke="#000" stroke-width="2.9" stroke-linecap="butt"/>
<text x="135.3" y="1878.1" font-size="21.5" text-anchor="end">20</text>
<line x1="136.3" y1="1937.4" x2="150.3" y2="1937.4" stroke="#000" stroke-width="2.9" stroke-linecap="butt"/>
<text x="135.3" y="1946.4" font-size="21.5" text-anchor="end">0</text>
<line x1="178.9" y1="1937.4" x2="178.9" y2="1951.2" stroke="#000" stroke-width="2.9" stroke-linecap="butt"/>
<line x1="221.7" y1="1937.4" x2="221.7" y2="1951.2" stroke="#000" stroke-width="2.9" stroke-linecap="butt"/>
<line x1="264.5" y1="1937.4" x2="264.5" y2="1951.2" stroke="#000" stroke-width="2.9" stroke-linecap="butt"/>
<line x1="307.3" y1="1937.4" x2="307.3" y2="1951.2" stroke="#000" stroke-width="2.9" stroke-linecap="butt"/>
<line x1="350.0" y1="1937.4" x2="350.0" y2="1951.2" stroke="#000" stroke-width="2.9" stroke-linecap="butt"/>
<line x1="392.8" y1="1937.4" x2="392.8" y2="1951.2" stroke="#000" stroke-width="2.9" stroke-linecap="butt"/>
<text x="265.2" y="1689.8" font-size="23" text-anchor="middle" font-weight="normal">n.s.</text>
<text x="306.8" y="1704.0" font-size="23" text-anchor="middle" font-weight="normal">n.s.</text>
<text x="350.0" y="1758.8" font-size="21.5" text-anchor="middle" font-weight="normal">****</text>
<text x="393.5" y="1829.2" font-size="21.5" text-anchor="middle" font-weight="normal">****</text>
<text x="11.7" y="1973.3" font-size="20" text-anchor="start" textLength="130.8" lengthAdjust="spacingAndGlyphs">CitH3 peptide</text>
<text x="28.8" y="1997.3" font-size="20" text-anchor="start" textLength="113.7" lengthAdjust="spacingAndGlyphs">IgG (µg/mL)</text>
<text x="25.7" y="2019.8" font-size="20" text-anchor="start" textLength="116.8" lengthAdjust="spacingAndGlyphs">hCitH3-mAb</text>
<text x="68.4" y="2045.4" font-size="20" text-anchor="start" textLength="74.1" lengthAdjust="spacingAndGlyphs">(µg/mL)</text>
<text x="264.0" y="1634.8" font-size="26" text-anchor="start" textLength="46.4" lengthAdjust="spacingAndGlyphs">IL-6</text>
<text font-size="22" text-anchor="start" textLength="66.0" lengthAdjust="spacingAndGlyphs" transform="translate(95.3 1834.0) rotate(-90)" x="0" y="7.9">pg/mL</text>
</g>
<text x="178.9" y="1970.5" font-size="21" text-anchor="middle">-</text>
<text x="178.9" y="1992.9" font-size="21" text-anchor="middle">-</text>
<text x="178.9" y="2017.8" font-size="21" text-anchor="middle">-</text>
<text x="221.7" y="1970.5" font-size="21" text-anchor="middle">+</text>
<text x="221.7" y="1992.9" font-size="21" text-anchor="middle">-</text>
<text x="221.7" y="2017.8" font-size="21" text-anchor="middle">-</text>
<text x="264.5" y="1970.5" font-size="21" text-anchor="middle">+</text>
<text x="264.5" y="1992.9" font-size="20.5" text-anchor="middle">25</text>
<text x="264.5" y="2017.8" font-size="21" text-anchor="middle">-</text>
<text x="307.3" y="1970.5" font-size="21" text-anchor="middle">+</text>
<text x="307.3" y="1992.9" font-size="21" text-anchor="middle">-</text>
<text x="307.3" y="2017.8" font-size="20.5" text-anchor="middle">0.25</text>
<text x="350.0" y="1970.5" font-size="21" text-anchor="middle">+</text>
<text x="350.0" y="1992.9" font-size="21" text-anchor="middle">-</text>
<text x="350.0" y="2017.8" font-size="20.5" text-anchor="middle">2.5</text>
<text x="392.8" y="1970.5" font-size="21" text-anchor="middle">+</text>
<text x="392.8" y="1992.9" font-size="21" text-anchor="middle">-</text>
<text x="392.8" y="2017.8" font-size="20.5" text-anchor="middle">25</text>
<g id="g2">
<rect x="525.6" y="1901.6" width="23.4" height="38.2" fill="#fff"/>
<path d="M525.6,1940.8V1901.6H549.0V1940.8" fill="none" stroke="#000" stroke-width="4.7"/>
<rect x="568.9" y="1760.6" width="23.4" height="179.3" fill="#a1a1a6"/>
<path d="M568.9,1940.8V1760.6H592.3V1940.8" fill="none" stroke="#000" stroke-width="4.7"/>
<rect x="611.9" y="1762.5" width="23.4" height="177.3" fill="#f4147f"/>
<path d="M611.9,1940.8V1762.5H635.3V1940.8" fill="none" stroke="#000" stroke-width="4.7"/>
<rect x="655.2" y="1802.6" width="23.4" height="137.2" fill="#c0c0ff"/>
<path d="M655.2,1940.8V1802.6H678.6V1940.8" fill="none" stroke="#000" stroke-width="4.7"/>
<rect x="698.4" y="1837.6" width="23.4" height="102.3" fill="#9090ff"/>
<path d="M698.4,1940.8V1837.6H721.9V1940.8" fill="none" stroke="#000" stroke-width="4.7"/>
<rect x="741.5" y="1860.3" width="23.4" height="79.5" fill="#0000ff"/>
<path d="M741.5,1940.8V1860.3H764.9V1940.8" fill="none" stroke="#000" stroke-width="4.7"/>
<line x1="537.3" y1="1892.7" x2="537.3" y2="1906.1" stroke="#000" stroke-width="1.8" stroke-linecap="butt"/>
<line x1="528.3" y1="1892.7" x2="546.3" y2="1892.7" stroke="#000" stroke-width="1.8" stroke-linecap="butt"/>
<line x1="528.3" y1="1906.1" x2="546.3" y2="1906.1" stroke="#000" stroke-width="1.8" stroke-linecap="butt"/>
<line x1="580.6" y1="1735.7" x2="580.6" y2="1779.0" stroke="#000" stroke-width="1.8" stroke-linecap="butt"/>
<line x1="571.6" y1="1735.7" x2="589.6" y2="1735.7" stroke="#000" stroke-width="1.8" stroke-linecap="butt"/>
<line x1="571.6" y1="1779.0" x2="589.6" y2="1779.0" stroke="#000" stroke-width="1.8" stroke-linecap="butt"/>
<line x1="623.6" y1="1742.3" x2="623.6" y2="1776.6" stroke="#000" stroke-width="1.8" stroke-linecap="butt"/>
<line x1="614.6" y1="1742.3" x2="632.6" y2="1742.3" stroke="#000" stroke-width="1.8" stroke-linecap="butt"/>
<line x1="614.6" y1="1776.6" x2="632.6" y2="1776.6" stroke="#000" stroke-width="1.8" stroke-linecap="butt"/>
<line x1="666.9" y1="1790.0" x2="666.9" y2="1807.6" stroke="#000" stroke-width="1.8" stroke-linecap="butt"/>
<line x1="657.9" y1="1790.0" x2="675.9" y2="1790.0" stroke="#000" stroke-width="1.8" stroke-linecap="butt"/>
<line x1="657.9" y1="1807.6" x2="675.9" y2="1807.6" stroke="#000" stroke-width="1.8" stroke-linecap="butt"/>
<line x1="710.1" y1="1821.8" x2="710.1" y2="1846.2" stroke="#000" stroke-width="1.8" stroke-linecap="butt"/>
<line x1="701.1" y1="1821.8" x2="719.1" y2="1821.8" stroke="#000" stroke-width="1.8" stroke-linecap="butt"/>
<line x1="701.1" y1="1846.2" x2="719.1" y2="1846.2" stroke="#000" stroke-width="1.8" stroke-linecap="butt"/>
<line x1="753.2" y1="1851.1" x2="753.2" y2="1869.4" stroke="#000" stroke-width="1.8" stroke-linecap="butt"/>
<line x1="744.2" y1="1851.1" x2="762.2" y2="1851.1" stroke="#000" stroke-width="1.8" stroke-linecap="butt"/>
<line x1="744.2" y1="1869.4" x2="762.2" y2="1869.4" stroke="#000" stroke-width="1.8" stroke-linecap="butt"/>
<circle cx="541.7" cy="1887.8" r="5.7"/>
<circle cx="532.4" cy="1892.7" r="5.7"/>
<circle cx="527.6" cy="1901.2" r="5.7"/>
<circle cx="536.1" cy="1902.4" r="5.7"/>
<circle cx="542.2" cy="1903.7" r="5.7"/>
<circle cx="547.1" cy="1906.1" r="5.7"/>
<circle cx="589.9" cy="1730.1" r="5.7"/>
<circle cx="571.6" cy="1738.7" r="5.7"/>
<circle cx="589.9" cy="1749.7" r="5.7"/>
<circle cx="571.6" cy="1758.2" r="5.7"/>
<circle cx="580.6" cy="1774.1" r="5.7"/>
<circle cx="580.6" cy="1787.6" r="5.7"/>
<circle cx="614.8" cy="1742.3" r="5.7"/>
<circle cx="624.1" cy="1745.5" r="5.7"/>
<circle cx="632.7" cy="1749.7" r="5.7"/>
<circle cx="624.1" cy="1757.7" r="5.7"/>
<circle cx="624.1" cy="1771.7" r="5.7"/>
<circle cx="624.1" cy="1786.3" r="5.7"/>
<circle cx="676.2" cy="1790.0" r="5.7"/>
<circle cx="658.3" cy="1792.9" r="5.7"/>
<circle cx="664.4" cy="1796.1" r="5.7"/>
<circle cx="671.8" cy="1799.8" r="5.7"/>
<circle cx="666.9" cy="1804.7" r="5.7"/>
<circle cx="666.9" cy="1815.7" r="5.7"/>
<circle cx="719.4" cy="1816.4" r="5.7"/>
<circle cx="701.1" cy="1826.2" r="5.7"/>
<circle cx="719.4" cy="1827.9" r="5.7"/>
<circle cx="710.9" cy="1837.7" r="5.7"/>
<circle cx="719.4" cy="1842.5" r="5.7"/>
<circle cx="701.1" cy="1849.9" r="5.7"/>
<circle cx="744.6" cy="1843.8" r="5.7"/>
<circle cx="762.2" cy="1849.4" r="5.7"/>
<circle cx="753.2" cy="1851.1" r="5.7"/>
<circle cx="753.2" cy="1863.3" r="5.7"/>
<circle cx="753.2" cy="1869.4" r="5.7"/>
<circle cx="753.2" cy="1875.5" r="5.7"/>
<line x1="508.7" y1="1663.4" x2="508.7" y2="1941.3" stroke="#000" stroke-width="2.9" stroke-linecap="butt"/>
<line x1="496.5" y1="1939.8" x2="785.4" y2="1939.8" stroke="#000" stroke-width="2.9" stroke-linecap="butt"/>
<line x1="494.7" y1="1664.8" x2="508.7" y2="1664.8" stroke="#000" stroke-width="2.9" stroke-linecap="butt"/>
<text x="493.7" y="1673.8" font-size="21.5" text-anchor="end">200</text>
<line x1="494.7" y1="1733.6" x2="508.7" y2="1733.6" stroke="#000" stroke-width="2.9" stroke-linecap="butt"/>
<text x="493.7" y="1742.6" font-size="21.5" text-anchor="end">150</text>
<line x1="494.7" y1="1802.3" x2="508.7" y2="1802.3" stroke="#000" stroke-width="2.9" stroke-linecap="butt"/>
<text x="493.7" y="1811.3" font-size="21.5" text-anchor="end">100</text>
<line x1="494.7" y1="1871.1" x2="508.7" y2="1871.1" stroke="#000" stroke-width="2.9" stroke-linecap="butt"/>
<text x="493.7" y="1880.1" font-size="21.5" text-anchor="end">50</text>
<line x1="494.7" y1="1939.8" x2="508.7" y2="1939.8" stroke="#000" stroke-width="2.9" stroke-linecap="butt"/>
<text x="493.7" y="1948.8" font-size="21.5" text-anchor="end">0</text>
<line x1="537.3" y1="1939.8" x2="537.3" y2="1953.6" stroke="#000" stroke-width="2.9" stroke-linecap="butt"/>
<line x1="580.6" y1="1939.8" x2="580.6" y2="1953.6" stroke="#000" stroke-width="2.9" stroke-linecap="butt"/>
<line x1="623.6" y1="1939.8" x2="623.6" y2="1953.6" stroke="#000" stroke-width="2.9" stroke-linecap="butt"/>
<line x1="666.9" y1="1939.8" x2="666.9" y2="1953.6" stroke="#000" stroke-width="2.9" stroke-linecap="butt"/>
<line x1="710.1" y1="1939.8" x2="710.1" y2="1953.6" stroke="#000" stroke-width="2.9" stroke-linecap="butt"/>
<line x1="753.2" y1="1939.8" x2="753.2" y2="1953.6" stroke="#000" stroke-width="2.9" stroke-linecap="butt"/>
<text x="625.3" y="1721.6" font-size="23" text-anchor="middle" font-weight="normal">n.s.</text>
<text x="668.8" y="1769.8" font-size="21.5" text-anchor="middle" font-weight="normal">****</text>
<text x="711.6" y="1808.9" font-size="21.5" text-anchor="middle" font-weight="normal">****</text>
<text x="754.4" y="1836.3" font-size="21.5" text-anchor="middle" font-weight="normal">****</text>
<text x="614.8" y="1634.8" font-size="26" text-anchor="start" textLength="63.1" lengthAdjust="spacingAndGlyphs">IL-1β</text>
<text font-size="22" text-anchor="start" textLength="66.0" lengthAdjust="spacingAndGlyphs" transform="translate(440.8 1835.2) rotate(-90)" x="0" y="7.9">pg/mL</text>
</g>
<text x="537.3" y="1973.7" font-size="21" text-anchor="middle">-</text>
<text x="537.3" y="1996.5" font-size="21" text-anchor="middle">-</text>
<text x="537.3" y="2019.8" font-size="21" text-anchor="middle">-</text>
<text x="580.6" y="1973.7" font-size="21" text-anchor="middle">+</text>
<text x="580.6" y="1996.5" font-size="21" text-anchor="middle">-</text>
<text x="580.6" y="2019.8" font-size="21" text-anchor="middle">-</text>
<text x="623.6" y="1973.7" font-size="21" text-anchor="middle">+</text>
<text x="623.6" y="1996.5" font-size="20.5" text-anchor="middle">25</text>
<text x="623.6" y="2019.8" font-size="21" text-anchor="middle">-</text>
<text x="666.9" y="1973.7" font-size="21" text-anchor="middle">+</text>
<text x="666.9" y="1996.5" font-size="21" text-anchor="middle">-</text>
<text x="666.9" y="2019.8" font-size="20.5" text-anchor="middle">0.25</text>
<text x="710.1" y="1973.7" font-size="21" text-anchor="middle">+</text>
<text x="710.1" y="1996.5" font-size="21" text-anchor="middle">-</text>
<text x="710.1" y="2019.8" font-size="20.5" text-anchor="middle">2.5</text>
<text x="753.2" y="1973.7" font-size="21" text-anchor="middle">+</text>
<text x="753.2" y="1996.5" font-size="21" text-anchor="middle">-</text>
<text x="753.2" y="2019.8" font-size="20.5" text-anchor="middle">25</text>
<g id="g3">
<rect x="888.7" y="1909.7" width="24.6" height="30.6" fill="#fff"/>
<path d="M888.7,1941.3V1909.7H913.3V1941.3" fill="none" stroke="#000" stroke-width="4.7"/>
<rect x="933.2" y="1721.0" width="24.6" height="219.4" fill="#a1a1a6"/>
<path d="M933.2,1941.3V1721.0H957.8V1941.3" fill="none" stroke="#000" stroke-width="4.7"/>
<rect x="976.7" y="1714.6" width="24.6" height="225.7" fill="#f4147f"/>
<path d="M976.7,1941.3V1714.6H1001.3V1941.3" fill="none" stroke="#000" stroke-width="4.7"/>
<rect x="1021.2" y="1711.2" width="24.6" height="229.1" fill="#c0c0ff"/>
<path d="M1021.2,1941.3V1711.2H1045.8V1941.3" fill="none" stroke="#000" stroke-width="4.7"/>
<rect x="1064.7" y="1828.3" width="24.6" height="112.0" fill="#9090ff"/>
<path d="M1064.7,1941.3V1828.3H1089.3V1941.3" fill="none" stroke="#000" stroke-width="4.7"/>
<rect x="1109.2" y="1866.9" width="24.6" height="73.4" fill="#0000ff"/>
<path d="M1109.2,1941.3V1866.9H1133.8V1941.3" fill="none" stroke="#000" stroke-width="4.7"/>
<line x1="901.0" y1="1901.2" x2="901.0" y2="1912.2" stroke="#000" stroke-width="1.8" stroke-linecap="butt"/>
<line x1="892.0" y1="1901.2" x2="910.0" y2="1901.2" stroke="#000" stroke-width="1.8" stroke-linecap="butt"/>
<line x1="892.0" y1="1912.2" x2="910.0" y2="1912.2" stroke="#000" stroke-width="1.8" stroke-linecap="butt"/>
<line x1="945.5" y1="1698.3" x2="945.5" y2="1737.4" stroke="#000" stroke-width="1.8" stroke-linecap="butt"/>
<line x1="936.5" y1="1698.3" x2="954.5" y2="1698.3" stroke="#000" stroke-width="1.8" stroke-linecap="butt"/>
<line x1="936.5" y1="1737.4" x2="954.5" y2="1737.4" stroke="#000" stroke-width="1.8" stroke-linecap="butt"/>
<line x1="989.0" y1="1701.5" x2="989.0" y2="1722.0" stroke="#000" stroke-width="1.8" stroke-linecap="butt"/>
<line x1="980.0" y1="1701.5" x2="998.0" y2="1701.5" stroke="#000" stroke-width="1.8" stroke-linecap="butt"/>
<line x1="980.0" y1="1722.0" x2="998.0" y2="1722.0" stroke="#000" stroke-width="1.8" stroke-linecap="butt"/>
<line x1="1033.5" y1="1688.6" x2="1033.5" y2="1727.7" stroke="#000" stroke-width="1.8" stroke-linecap="butt"/>
<line x1="1024.5" y1="1688.6" x2="1042.5" y2="1688.6" stroke="#000" stroke-width="1.8" stroke-linecap="butt"/>
<line x1="1024.5" y1="1727.7" x2="1042.5" y2="1727.7" stroke="#000" stroke-width="1.8" stroke-linecap="butt"/>
<line x1="1077.0" y1="1809.1" x2="1077.0" y2="1840.8" stroke="#000" stroke-width="1.8" stroke-linecap="butt"/>
<line x1="1068.0" y1="1809.1" x2="1086.0" y2="1809.1" stroke="#000" stroke-width="1.8" stroke-linecap="butt"/>
<line x1="1068.0" y1="1840.8" x2="1086.0" y2="1840.8" stroke="#000" stroke-width="1.8" stroke-linecap="butt"/>
<line x1="1121.5" y1="1855.5" x2="1121.5" y2="1873.1" stroke="#000" stroke-width="1.8" stroke-linecap="butt"/>
<line x1="1112.5" y1="1855.5" x2="1130.5" y2="1855.5" stroke="#000" stroke-width="1.8" stroke-linecap="butt"/>
<line x1="1112.5" y1="1873.1" x2="1130.5" y2="1873.1" stroke="#000" stroke-width="1.8" stroke-linecap="butt"/>
<circle cx="891.2" cy="1902.4" r="5.7"/>
<circle cx="901.7" cy="1901.9" r="5.7"/>
<circle cx="910.8" cy="1904.9" r="5.7"/>
<circle cx="901.7" cy="1909.8" r="5.7"/>
<circle cx="907.1" cy="1911.7" r="5.7"/>
<circle cx="896.1" cy="1917.1" r="5.7"/>
<circle cx="941.3" cy="1694.7" r="5.7"/>
<circle cx="948.7" cy="1694.7" r="5.7"/>
<circle cx="936.4" cy="1725.2" r="5.7"/>
<circle cx="946.2" cy="1726.4" r="5.7"/>
<circle cx="954.8" cy="1724.0" r="5.7"/>
<circle cx="936.4" cy="1736.2" r="5.7"/>
<circle cx="986.6" cy="1698.3" r="5.7"/>
<circle cx="979.2" cy="1706.9" r="5.7"/>
<circle cx="990.2" cy="1709.3" r="5.7"/>
<circle cx="998.8" cy="1711.8" r="5.7"/>
<circle cx="989.0" cy="1716.7" r="5.7"/>
<circle cx="989.0" cy="1730.1" r="5.7"/>
<circle cx="1033.5" cy="1681.2" r="5.7"/>
<circle cx="1023.2" cy="1697.6" r="5.7"/>
<circle cx="1042.8" cy="1699.1" r="5.7"/>
<circle cx="1023.2" cy="1715.4" r="5.7"/>
<circle cx="1042.8" cy="1719.6" r="5.7"/>
<circle cx="1033.5" cy="1735.0" r="5.7"/>
<circle cx="1086.8" cy="1805.2" r="5.7"/>
<circle cx="1067.9" cy="1812.0" r="5.7"/>
<circle cx="1086.8" cy="1819.3" r="5.7"/>
<circle cx="1067.9" cy="1834.0" r="5.7"/>
<circle cx="1086.8" cy="1835.2" r="5.7"/>
<circle cx="1077.5" cy="1846.2" r="5.7"/>
<circle cx="1130.8" cy="1852.3" r="5.7"/>
<circle cx="1121.0" cy="1854.8" r="5.7"/>
<circle cx="1111.2" cy="1860.9" r="5.7"/>
<circle cx="1130.8" cy="1863.3" r="5.7"/>
<circle cx="1116.8" cy="1875.5" r="5.7"/>
<circle cx="1125.9" cy="1875.5" r="5.7"/>
<line x1="872.4" y1="1659.0" x2="872.4" y2="1941.8" stroke="#000" stroke-width="2.9" stroke-linecap="butt"/>
<line x1="859.4" y1="1940.3" x2="1154.0" y2="1940.3" stroke="#000" stroke-width="2.9" stroke-linecap="butt"/>
<line x1="858.4" y1="1660.4" x2="872.4" y2="1660.4" stroke="#000" stroke-width="2.9" stroke-linecap="butt"/>
<text x="857.4" y="1669.4" font-size="21.5" text-anchor="end">250</text>
<line x1="858.4" y1="1716.4" x2="872.4" y2="1716.4" stroke="#000" stroke-width="2.9" stroke-linecap="butt"/>
<text x="857.4" y="1725.4" font-size="21.5" text-anchor="end">200</text>
<line x1="858.4" y1="1772.4" x2="872.4" y2="1772.4" stroke="#000" stroke-width="2.9" stroke-linecap="butt"/>
<text x="857.4" y="1781.4" font-size="21.5" text-anchor="end">150</text>
<line x1="858.4" y1="1828.4" x2="872.4" y2="1828.4" stroke="#000" stroke-width="2.9" stroke-linecap="butt"/>
<text x="857.4" y="1837.4" font-size="21.5" text-anchor="end">100</text>
<line x1="858.4" y1="1884.3" x2="872.4" y2="1884.3" stroke="#000" stroke-width="2.9" stroke-linecap="butt"/>
<text x="857.4" y="1893.3" font-size="21.5" text-anchor="end">50</text>
<line x1="858.4" y1="1940.3" x2="872.4" y2="1940.3" stroke="#000" stroke-width="2.9" stroke-linecap="butt"/>
<text x="857.4" y="1949.3" font-size="21.5" text-anchor="end">0</text>
<line x1="901.0" y1="1940.3" x2="901.0" y2="1954.1" stroke="#000" stroke-width="2.9" stroke-linecap="butt"/>
<line x1="945.5" y1="1940.3" x2="945.5" y2="1954.1" stroke="#000" stroke-width="2.9" stroke-linecap="butt"/>
<line x1="989.0" y1="1940.3" x2="989.0" y2="1954.1" stroke="#000" stroke-width="2.9" stroke-linecap="butt"/>
<line x1="1033.5" y1="1940.3" x2="1033.5" y2="1954.1" stroke="#000" stroke-width="2.9" stroke-linecap="butt"/>
<line x1="1077.0" y1="1940.3" x2="1077.0" y2="1954.1" stroke="#000" stroke-width="2.9" stroke-linecap="butt"/>
<line x1="1121.5" y1="1940.3" x2="1121.5" y2="1954.1" stroke="#000" stroke-width="2.9" stroke-linecap="butt"/>
<text x="991.9" y="1676.3" font-size="23" text-anchor="middle" font-weight="normal">n.s.</text>
<text x="1033.0" y="1661.2" font-size="23" text-anchor="middle" font-weight="normal">n.s.</text>
<text x="1077.0" y="1788.2" font-size="21.5" text-anchor="middle" font-weight="normal">****</text>
<text x="1121.5" y="1836.3" font-size="21.5" text-anchor="middle" font-weight="normal">****</text>
<text x="974.3" y="1628.7" font-size="26" text-anchor="start" textLength="75.3" lengthAdjust="spacingAndGlyphs">TNF-α</text>
<text font-size="22" text-anchor="start" textLength="66.0" lengthAdjust="spacingAndGlyphs" transform="translate(801.5 1832.8) rotate(-90)" x="0" y="7.9">pg/mL</text>
</g>
<text x="901.0" y="1974.4" font-size="21" text-anchor="middle">-</text>
<text x="901.0" y="1998.3" font-size="21" text-anchor="middle">-</text>
<text x="901.0" y="2021.7" font-size="21" text-anchor="middle">-</text>
<text x="945.5" y="1974.4" font-size="21" text-anchor="middle">+</text>
<text x="945.5" y="1998.3" font-size="21" text-anchor="middle">-</text>
<text x="945.5" y="2021.7" font-size="21" text-anchor="middle">-</text>
<text x="989.0" y="1974.4" font-size="21" text-anchor="middle">+</text>
<text x="989.0" y="1998.3" font-size="20.5" text-anchor="middle">25</text>
<text x="989.0" y="2021.7" font-size="21" text-anchor="middle">-</text>
<text x="1033.5" y="1974.4" font-size="21" text-anchor="middle">+</text>
<text x="1033.5" y="1998.3" font-size="21" text-anchor="middle">-</text>
<text x="1033.5" y="2021.7" font-size="20.5" text-anchor="middle">0.25</text>
<text x="1077.0" y="1974.4" font-size="21" text-anchor="middle">+</text>
<text x="1077.0" y="1998.3" font-size="21" text-anchor="middle">-</text>
<text x="1077.0" y="2021.7" font-size="20.5" text-anchor="middle">2.5</text>
<text x="1121.5" y="1974.4" font-size="21" text-anchor="middle">+</text>
<text x="1121.5" y="1998.3" font-size="21" text-anchor="middle">-</text>
<text x="1121.5" y="2021.7" font-size="20.5" text-anchor="middle">25</text>
<g id="g4">
<rect x="1246.5" y="1934.1" width="24.6" height="6.2" fill="#fff"/>
<path d="M1246.5,1941.3V1934.1H1271.1V1941.3" fill="none" stroke="#000" stroke-width="4.7"/>
<rect x="1290.2" y="1722.7" width="24.6" height="217.6" fill="#a1a1a6"/>
<path d="M1290.2,1941.3V1722.7H1314.8V1941.3" fill="none" stroke="#000" stroke-width="4.7"/>
<rect x="1334.0" y="1755.7" width="24.6" height="184.6" fill="#f4147f"/>
<path d="M1334.0,1941.3V1755.7H1358.6V1941.3" fill="none" stroke="#000" stroke-width="4.7"/>
<rect x="1378.0" y="1767.9" width="24.6" height="172.4" fill="#c0c0ff"/>
<path d="M1378.0,1941.3V1767.9H1402.6V1941.3" fill="none" stroke="#000" stroke-width="4.7"/>
<rect x="1421.7" y="1767.9" width="24.6" height="172.4" fill="#9090ff"/>
<path d="M1421.7,1941.3V1767.9H1446.4V1941.3" fill="none" stroke="#000" stroke-width="4.7"/>
<rect x="1465.7" y="1857.1" width="24.6" height="83.2" fill="#0000ff"/>
<path d="M1465.7,1941.3V1857.1H1490.4V1941.3" fill="none" stroke="#000" stroke-width="4.7"/>
<line x1="1258.8" y1="1928.1" x2="1258.8" y2="1935.4" stroke="#000" stroke-width="1.8" stroke-linecap="butt"/>
<line x1="1249.8" y1="1928.1" x2="1267.8" y2="1928.1" stroke="#000" stroke-width="1.8" stroke-linecap="butt"/>
<line x1="1249.8" y1="1935.4" x2="1267.8" y2="1935.4" stroke="#000" stroke-width="1.8" stroke-linecap="butt"/>
<line x1="1302.5" y1="1682.4" x2="1302.5" y2="1757.0" stroke="#000" stroke-width="1.8" stroke-linecap="butt"/>
<line x1="1293.5" y1="1682.4" x2="1311.5" y2="1682.4" stroke="#000" stroke-width="1.8" stroke-linecap="butt"/>
<line x1="1293.5" y1="1757.0" x2="1311.5" y2="1757.0" stroke="#000" stroke-width="1.8" stroke-linecap="butt"/>
<line x1="1346.3" y1="1703.2" x2="1346.3" y2="1801.0" stroke="#000" stroke-width="1.8" stroke-linecap="butt"/>
<line x1="1337.3" y1="1703.2" x2="1355.3" y2="1703.2" stroke="#000" stroke-width="1.8" stroke-linecap="butt"/>
<line x1="1337.3" y1="1801.0" x2="1355.3" y2="1801.0" stroke="#000" stroke-width="1.8" stroke-linecap="butt"/>
<line x1="1390.3" y1="1733.8" x2="1390.3" y2="1794.4" stroke="#000" stroke-width="1.8" stroke-linecap="butt"/>
<line x1="1381.3" y1="1733.8" x2="1399.3" y2="1733.8" stroke="#000" stroke-width="1.8" stroke-linecap="butt"/>
<line x1="1381.3" y1="1794.4" x2="1399.3" y2="1794.4" stroke="#000" stroke-width="1.8" stroke-linecap="butt"/>
<line x1="1434.0" y1="1740.4" x2="1434.0" y2="1783.9" stroke="#000" stroke-width="1.8" stroke-linecap="butt"/>
<line x1="1425.0" y1="1740.4" x2="1443.0" y2="1740.4" stroke="#000" stroke-width="1.8" stroke-linecap="butt"/>
<line x1="1425.0" y1="1783.9" x2="1443.0" y2="1783.9" stroke="#000" stroke-width="1.8" stroke-linecap="butt"/>
<line x1="1478.0" y1="1840.1" x2="1478.0" y2="1867.0" stroke="#000" stroke-width="1.8" stroke-linecap="butt"/>
<line x1="1469.0" y1="1840.1" x2="1487.0" y2="1840.1" stroke="#000" stroke-width="1.8" stroke-linecap="butt"/>
<line x1="1469.0" y1="1867.0" x2="1487.0" y2="1867.0" stroke="#000" stroke-width="1.8" stroke-linecap="butt"/>
<circle cx="1253.4" cy="1928.6" r="5.7"/>
<circle cx="1262.4" cy="1923.2" r="5.7"/>
<circle cx="1268.6" cy="1923.2" r="5.7"/>
<circle cx="1257.6" cy="1934.2" r="5.7"/>
<circle cx="1264.9" cy="1935.9" r="5.7"/>
<circle cx="1251.4" cy="1936.7" r="5.7"/>
<circle cx="1293.0" cy="1689.3" r="5.7"/>
<circle cx="1302.8" cy="1688.6" r="5.7"/>
<circle cx="1311.8" cy="1689.3" r="5.7"/>
<circle cx="1302.8" cy="1723.5" r="5.7"/>
<circle cx="1302.8" cy="1757.0" r="5.7"/>
<circle cx="1302.8" cy="1772.9" r="5.7"/>
<circle cx="1346.3" cy="1683.2" r="5.7"/>
<circle cx="1346.3" cy="1716.7" r="5.7"/>
<circle cx="1346.3" cy="1744.8" r="5.7"/>
<circle cx="1346.3" cy="1766.3" r="5.7"/>
<circle cx="1346.3" cy="1778.5" r="5.7"/>
<circle cx="1346.3" cy="1823.5" r="5.7"/>
<circle cx="1381.0" cy="1733.3" r="5.7"/>
<circle cx="1399.3" cy="1733.3" r="5.7"/>
<circle cx="1390.3" cy="1744.8" r="5.7"/>
<circle cx="1390.3" cy="1784.6" r="5.7"/>
<circle cx="1381.0" cy="1795.4" r="5.7"/>
<circle cx="1399.3" cy="1795.4" r="5.7"/>
<circle cx="1434.8" cy="1727.7" r="5.7"/>
<circle cx="1434.8" cy="1744.8" r="5.7"/>
<circle cx="1434.8" cy="1760.7" r="5.7"/>
<circle cx="1425.0" cy="1783.9" r="5.7"/>
<circle cx="1434.8" cy="1785.1" r="5.7"/>
<circle cx="1443.3" cy="1783.9" r="5.7"/>
<circle cx="1478.0" cy="1834.0" r="5.7"/>
<circle cx="1487.3" cy="1846.2" r="5.7"/>
<circle cx="1469.0" cy="1849.9" r="5.7"/>
<circle cx="1487.3" cy="1856.0" r="5.7"/>
<circle cx="1478.0" cy="1862.1" r="5.7"/>
<circle cx="1478.0" cy="1873.8" r="5.7"/>
<line x1="1229.4" y1="1659.0" x2="1229.4" y2="1941.8" stroke="#000" stroke-width="2.9" stroke-linecap="butt"/>
<line x1="1216.5" y1="1940.3" x2="1511.3" y2="1940.3" stroke="#000" stroke-width="2.9" stroke-linecap="butt"/>
<line x1="1215.4" y1="1660.4" x2="1229.4" y2="1660.4" stroke="#000" stroke-width="2.9" stroke-linecap="butt"/>
<text x="1214.4" y="1669.4" font-size="21.5" text-anchor="end">50</text>
<line x1="1215.4" y1="1716.4" x2="1229.4" y2="1716.4" stroke="#000" stroke-width="2.9" stroke-linecap="butt"/>
<text x="1214.4" y="1725.4" font-size="21.5" text-anchor="end">40</text>
<line x1="1215.4" y1="1772.4" x2="1229.4" y2="1772.4" stroke="#000" stroke-width="2.9" stroke-linecap="butt"/>
<text x="1214.4" y="1781.4" font-size="21.5" text-anchor="end">30</text>
<line x1="1215.4" y1="1828.4" x2="1229.4" y2="1828.4" stroke="#000" stroke-width="2.9" stroke-linecap="butt"/>
<text x="1214.4" y="1837.4" font-size="21.5" text-anchor="end">20</text>
<line x1="1215.4" y1="1884.3" x2="1229.4" y2="1884.3" stroke="#000" stroke-width="2.9" stroke-linecap="butt"/>
<text x="1214.4" y="1893.3" font-size="21.5" text-anchor="end">10</text>
<line x1="1215.4" y1="1940.3" x2="1229.4" y2="1940.3" stroke="#000" stroke-width="2.9" stroke-linecap="butt"/>
<text x="1214.4" y="1949.3" font-size="21.5" text-anchor="end">0</text>
<line x1="1258.8" y1="1940.3" x2="1258.8" y2="1954.1" stroke="#000" stroke-width="2.9" stroke-linecap="butt"/>
<line x1="1302.5" y1="1940.3" x2="1302.5" y2="1954.1" stroke="#000" stroke-width="2.9" stroke-linecap="butt"/>
<line x1="1346.3" y1="1940.3" x2="1346.3" y2="1954.1" stroke="#000" stroke-width="2.9" stroke-linecap="butt"/>
<line x1="1390.3" y1="1940.3" x2="1390.3" y2="1954.1" stroke="#000" stroke-width="2.9" stroke-linecap="butt"/>
<line x1="1434.0" y1="1940.3" x2="1434.0" y2="1954.1" stroke="#000" stroke-width="2.9" stroke-linecap="butt"/>
<line x1="1478.0" y1="1940.3" x2="1478.0" y2="1954.1" stroke="#000" stroke-width="2.9" stroke-linecap="butt"/>
<text x="1349.2" y="1667.0" font-size="23" text-anchor="middle" font-weight="normal">n.s.</text>
<text x="1390.3" y="1707.4" font-size="23" text-anchor="middle" font-weight="normal">n.s.</text>
<text x="1436.5" y="1703.2" font-size="23" text-anchor="middle" font-weight="normal">n.s.</text>
<text x="1478.8" y="1815.0" font-size="21.5" text-anchor="middle" font-weight="normal">****</text>
<text x="1335.8" y="1628.7" font-size="26" text-anchor="start" textLength="67.2" lengthAdjust="spacingAndGlyphs">IFN-α</text>
<text font-size="22" text-anchor="start" textLength="66.0" lengthAdjust="spacingAndGlyphs" transform="translate(1171.5 1832.8) rotate(-90)" x="0" y="7.9">pg/mL</text>
</g>
<text x="1258.8" y="1974.4" font-size="21" text-anchor="middle">-</text>
<text x="1258.8" y="1998.3" font-size="21" text-anchor="middle">-</text>
<text x="1258.8" y="2021.7" font-size="21" text-anchor="middle">-</text>
<text x="1302.5" y="1974.4" font-size="21" text-anchor="middle">+</text>
<text x="1302.5" y="1998.3" font-size="21" text-anchor="middle">-</text>
<text x="1302.5" y="2021.7" font-size="21" text-anchor="middle">-</text>
<text x="1346.3" y="1974.4" font-size="21" text-anchor="middle">+</text>
<text x="1346.3" y="1998.3" font-size="20.5" text-anchor="middle">25</text>
<text x="1346.3" y="2021.7" font-size="21" text-anchor="middle">-</text>
<text x="1390.3" y="1974.4" font-size="21" text-anchor="middle">+</text>
<text x="1390.3" y="1998.3" font-size="21" text-anchor="middle">-</text>
<text x="1390.3" y="2021.7" font-size="20.5" text-anchor="middle">0.25</text>
<text x="1434.0" y="1974.4" font-size="21" text-anchor="middle">+</text>
<text x="1434.0" y="1998.3" font-size="21" text-anchor="middle">-</text>
<text x="1434.0" y="2021.7" font-size="20.5" text-anchor="middle">2.5</text>
<text x="1478.0" y="1974.4" font-size="21" text-anchor="middle">+</text>
<text x="1478.0" y="1998.3" font-size="21" text-anchor="middle">-</text>
<text x="1478.0" y="2021.7" font-size="20.5" text-anchor="middle">25</text>
<g id="g5">
<rect x="1603.5" y="1930.5" width="24.1" height="9.9" fill="#fff"/>
<path d="M1603.5,1941.3V1930.5H1627.6V1941.3" fill="none" stroke="#000" stroke-width="4.7"/>
<rect x="1647.5" y="1774.7" width="24.1" height="165.6" fill="#a1a1a6"/>
<path d="M1647.5,1941.3V1774.7H1671.6V1941.3" fill="none" stroke="#000" stroke-width="4.7"/>
<rect x="1691.5" y="1761.3" width="24.1" height="179.0" fill="#f4147f"/>
<path d="M1691.5,1941.3V1761.3H1715.6V1941.3" fill="none" stroke="#000" stroke-width="4.7"/>
<rect x="1735.5" y="1775.2" width="24.1" height="165.1" fill="#c0c0ff"/>
<path d="M1735.5,1941.3V1775.2H1759.6V1941.3" fill="none" stroke="#000" stroke-width="4.7"/>
<rect x="1779.5" y="1761.8" width="24.1" height="178.5" fill="#9090ff"/>
<path d="M1779.5,1941.3V1761.8H1803.6V1941.3" fill="none" stroke="#000" stroke-width="4.7"/>
<rect x="1823.5" y="1867.4" width="24.1" height="72.9" fill="#0000ff"/>
<path d="M1823.5,1941.3V1867.4H1847.6V1941.3" fill="none" stroke="#000" stroke-width="4.7"/>
<line x1="1615.6" y1="1922.0" x2="1615.6" y2="1934.2" stroke="#000" stroke-width="1.8" stroke-linecap="butt"/>
<line x1="1606.6" y1="1922.0" x2="1624.6" y2="1922.0" stroke="#000" stroke-width="1.8" stroke-linecap="butt"/>
<line x1="1606.6" y1="1934.2" x2="1624.6" y2="1934.2" stroke="#000" stroke-width="1.8" stroke-linecap="butt"/>
<line x1="1659.6" y1="1736.2" x2="1659.6" y2="1805.4" stroke="#000" stroke-width="1.8" stroke-linecap="butt"/>
<line x1="1650.6" y1="1736.2" x2="1668.6" y2="1736.2" stroke="#000" stroke-width="1.8" stroke-linecap="butt"/>
<line x1="1650.6" y1="1805.4" x2="1668.6" y2="1805.4" stroke="#000" stroke-width="1.8" stroke-linecap="butt"/>
<line x1="1703.6" y1="1720.3" x2="1703.6" y2="1794.9" stroke="#000" stroke-width="1.8" stroke-linecap="butt"/>
<line x1="1694.6" y1="1720.3" x2="1712.6" y2="1720.3" stroke="#000" stroke-width="1.8" stroke-linecap="butt"/>
<line x1="1694.6" y1="1794.9" x2="1712.6" y2="1794.9" stroke="#000" stroke-width="1.8" stroke-linecap="butt"/>
<line x1="1747.6" y1="1739.2" x2="1747.6" y2="1804.2" stroke="#000" stroke-width="1.8" stroke-linecap="butt"/>
<line x1="1738.6" y1="1739.2" x2="1756.6" y2="1739.2" stroke="#000" stroke-width="1.8" stroke-linecap="butt"/>
<line x1="1738.6" y1="1804.2" x2="1756.6" y2="1804.2" stroke="#000" stroke-width="1.8" stroke-linecap="butt"/>
<line x1="1791.5" y1="1722.8" x2="1791.5" y2="1793.7" stroke="#000" stroke-width="1.8" stroke-linecap="butt"/>
<line x1="1782.5" y1="1722.8" x2="1800.5" y2="1722.8" stroke="#000" stroke-width="1.8" stroke-linecap="butt"/>
<line x1="1782.5" y1="1793.7" x2="1800.5" y2="1793.7" stroke="#000" stroke-width="1.8" stroke-linecap="butt"/>
<line x1="1835.5" y1="1834.0" x2="1835.5" y2="1893.9" stroke="#000" stroke-width="1.8" stroke-linecap="butt"/>
<line x1="1826.5" y1="1834.0" x2="1844.5" y2="1834.0" stroke="#000" stroke-width="1.8" stroke-linecap="butt"/>
<line x1="1826.5" y1="1893.9" x2="1844.5" y2="1893.9" stroke="#000" stroke-width="1.8" stroke-linecap="butt"/>
<circle cx="1624.8" cy="1917.1" r="5.7"/>
<circle cx="1606.5" cy="1922.5" r="5.7"/>
<circle cx="1613.1" cy="1922.5" r="5.7"/>
<circle cx="1618.0" cy="1929.3" r="5.7"/>
<circle cx="1624.8" cy="1931.3" r="5.7"/>
<circle cx="1606.5" cy="1935.9" r="5.7"/>
<circle cx="1659.6" cy="1731.3" r="5.7"/>
<circle cx="1650.3" cy="1745.5" r="5.7"/>
<circle cx="1669.3" cy="1745.5" r="5.7"/>
<circle cx="1659.6" cy="1787.1" r="5.7"/>
<circle cx="1659.6" cy="1800.5" r="5.7"/>
<circle cx="1659.6" cy="1815.2" r="5.7"/>
<circle cx="1693.8" cy="1721.6" r="5.7"/>
<circle cx="1713.3" cy="1721.6" r="5.7"/>
<circle cx="1703.6" cy="1727.7" r="5.7"/>
<circle cx="1703.6" cy="1787.1" r="5.7"/>
<circle cx="1713.3" cy="1792.4" r="5.7"/>
<circle cx="1695.0" cy="1797.3" r="5.7"/>
<circle cx="1747.6" cy="1717.4" r="5.7"/>
<circle cx="1747.6" cy="1750.4" r="5.7"/>
<circle cx="1747.6" cy="1772.4" r="5.7"/>
<circle cx="1747.6" cy="1791.2" r="5.7"/>
<circle cx="1757.3" cy="1796.1" r="5.7"/>
<circle cx="1738.3" cy="1801.0" r="5.7"/>
<circle cx="1791.5" cy="1712.3" r="5.7"/>
<circle cx="1791.5" cy="1726.4" r="5.7"/>
<circle cx="1801.3" cy="1754.6" r="5.7"/>
<circle cx="1782.3" cy="1758.7" r="5.7"/>
<circle cx="1800.8" cy="1796.8" r="5.7"/>
<circle cx="1783.0" cy="1801.0" r="5.7"/>
<circle cx="1845.3" cy="1824.7" r="5.7"/>
<circle cx="1827.0" cy="1829.1" r="5.7"/>
<circle cx="1827.0" cy="1875.5" r="5.7"/>
<circle cx="1845.3" cy="1879.2" r="5.7"/>
<circle cx="1827.0" cy="1893.9" r="5.7"/>
<circle cx="1844.8" cy="1889.0" r="5.7"/>
<line x1="1586.7" y1="1659.0" x2="1586.7" y2="1941.8" stroke="#000" stroke-width="2.9" stroke-linecap="butt"/>
<line x1="1574.0" y1="1940.3" x2="1868.5" y2="1940.3" stroke="#000" stroke-width="2.9" stroke-linecap="butt"/>
<line x1="1572.7" y1="1660.4" x2="1586.7" y2="1660.4" stroke="#000" stroke-width="2.9" stroke-linecap="butt"/>
<text x="1571.7" y="1669.4" font-size="21.5" text-anchor="end">60</text>
<line x1="1572.7" y1="1753.7" x2="1586.7" y2="1753.7" stroke="#000" stroke-width="2.9" stroke-linecap="butt"/>
<text x="1571.7" y="1762.7" font-size="21.5" text-anchor="end">40</text>
<line x1="1572.7" y1="1847.0" x2="1586.7" y2="1847.0" stroke="#000" stroke-width="2.9" stroke-linecap="butt"/>
<text x="1571.7" y="1856.0" font-size="21.5" text-anchor="end">20</text>
<line x1="1572.7" y1="1940.3" x2="1586.7" y2="1940.3" stroke="#000" stroke-width="2.9" stroke-linecap="butt"/>
<text x="1571.7" y="1949.3" font-size="21.5" text-anchor="end">0</text>
<line x1="1615.6" y1="1940.3" x2="1615.6" y2="1954.1" stroke="#000" stroke-width="2.9" stroke-linecap="butt"/>
<line x1="1659.6" y1="1940.3" x2="1659.6" y2="1954.1" stroke="#000" stroke-width="2.9" stroke-linecap="butt"/>
<line x1="1703.6" y1="1940.3" x2="1703.6" y2="1954.1" stroke="#000" stroke-width="2.9" stroke-linecap="butt"/>
<line x1="1747.6" y1="1940.3" x2="1747.6" y2="1954.1" stroke="#000" stroke-width="2.9" stroke-linecap="butt"/>
<line x1="1791.5" y1="1940.3" x2="1791.5" y2="1954.1" stroke="#000" stroke-width="2.9" stroke-linecap="butt"/>
<line x1="1835.5" y1="1940.3" x2="1835.5" y2="1954.1" stroke="#000" stroke-width="2.9" stroke-linecap="butt"/>
<text x="1702.3" y="1704.0" font-size="23" text-anchor="middle" font-weight="normal">n.s.</text>
<text x="1746.3" y="1694.7" font-size="23" text-anchor="middle" font-weight="normal">n.s.</text>
<text x="1792.0" y="1694.7" font-size="23" text-anchor="middle" font-weight="normal">n.s.</text>
<text x="1835.1" y="1810.9" font-size="21.5" text-anchor="middle" font-weight="normal">****</text>
<text x="1693.0" y="1628.7" font-size="26" text-anchor="start" textLength="66.7" lengthAdjust="spacingAndGlyphs">IFN-β</text>
<text font-size="22" text-anchor="start" textLength="66.0" lengthAdjust="spacingAndGlyphs" transform="translate(1528.8 1832.8) rotate(-90)" x="0" y="7.9">pg/mL</text>
</g>
<text x="1615.6" y="1974.4" font-size="21" text-anchor="middle">-</text>
<text x="1615.6" y="1998.3" font-size="21" text-anchor="middle">-</text>
<text x="1615.6" y="2021.7" font-size="21" text-anchor="middle">-</text>
<text x="1659.6" y="1974.4" font-size="21" text-anchor="middle">+</text>
<text x="1659.6" y="1998.3" font-size="21" text-anchor="middle">-</text>
<text x="1659.6" y="2021.7" font-size="21" text-anchor="middle">-</text>
<text x="1703.6" y="1974.4" font-size="21" text-anchor="middle">+</text>
<text x="1703.6" y="1998.3" font-size="20.5" text-anchor="middle">25</text>
<text x="1703.6" y="2021.7" font-size="21" text-anchor="middle">-</text>
<text x="1747.6" y="1974.4" font-size="21" text-anchor="middle">+</text>
<text x="1747.6" y="1998.3" font-size="21" text-anchor="middle">-</text>
<text x="1747.6" y="2021.7" font-size="20.5" text-anchor="middle">0.25</text>
<text x="1791.5" y="1974.4" font-size="21" text-anchor="middle">+</text>
<text x="1791.5" y="1998.3" font-size="21" text-anchor="middle">-</text>
<text x="1791.5" y="2021.7" font-size="20.5" text-anchor="middle">2.5</text>
<text x="1835.5" y="1974.4" font-size="21" text-anchor="middle">+</text>
<text x="1835.5" y="1998.3" font-size="21" text-anchor="middle">-</text>
<text x="1835.5" y="2021.7" font-size="20.5" text-anchor="middle">25</text>
<text x="13.0" y="40.5" font-size="45" text-anchor="start">a</text>
<text x="969.0" y="35.0" font-size="45" text-anchor="start">b</text>
<text x="14.7" y="506.0" font-size="45" text-anchor="start">c</text>
<text x="968.0" y="519.3" font-size="45" text-anchor="start">d</text>
<text x="15.4" y="1041.2" font-size="45" text-anchor="start">e</text>
<text x="663.9" y="1030.9" font-size="45" text-anchor="start">f</text>
<text x="20.8" y="1620.1" font-size="45" text-anchor="start">g</text>
<defs><linearGradient id="lg" x1="0" x2="1" y1="0" y2="0"><stop offset="0" stop-color="#000" stop-opacity=".055"/><stop offset=".6" stop-color="#000" stop-opacity=".04"/><stop offset="1" stop-color="#000" stop-opacity="0"/></linearGradient><filter id="b0"><feGaussianBlur stdDeviation="0.6"/></filter><filter id="nz" x="0" y="0" width="100%" height="100%"><feTurbulence type="fractalNoise" baseFrequency="0.55" numOctaves="2" seed="7"/><feColorMatrix type="matrix" values="0 0 0 0 0  0 0 0 0 0  0 0 0 0 0  0.9 0 0 0 -0.33"/></filter><filter id="b2" x="-20%" y="-100%" width="140%" height="300%"><feGaussianBlur stdDeviation="2.2 1.6"/></filter><filter id="b1" x="-20%" y="-100%" width="140%" height="300%"><feGaussianBlur stdDeviation="1.6 1.0"/></filter><filter id="b4" x="-30%" y="-150%" width="160%" height="400%"><feGaussianBlur stdDeviation="4.5 3.2"/></filter><filter id="b3" x="-20%" y="-100%" width="140%" height="300%"><feGaussianBlur stdDeviation="3.2 2.6"/></filter></defs>
<text x="214.3" y="1095.1" font-size="22" text-anchor="start">H3</text>
<text x="214.3" y="1123.1" font-size="22" text-anchor="start" textLength="83.2" lengthAdjust="spacingAndGlyphs">peptide</text>
<line x1="220.1" y1="1134.3" x2="298.5" y2="1134.3" stroke="#000" stroke-width="3.4" stroke-linecap="butt"/>
<text x="371.2" y="1090.6" font-size="22" text-anchor="start" textLength="60.4" lengthAdjust="spacingAndGlyphs">CitH3</text>
<text x="371.2" y="1117.9" font-size="22" text-anchor="start" textLength="83.2" lengthAdjust="spacingAndGlyphs">peptide</text>
<line x1="327.5" y1="1135.0" x2="474.2" y2="1135.0" stroke="#000" stroke-width="3.4" stroke-linecap="butt"/>
<text x="26.6" y="1168.1" font-size="22" text-anchor="start" textLength="53.6" lengthAdjust="spacingAndGlyphs">Time</text>
<text x="83" y="1168.1" font-size="21" font-weight="normal" text-anchor="start" font-family="'Liberation Sans', 'Noto Sans CJK SC', sans-serif">（</text>
<text x="104.5" y="1168.1" font-size="22.5" text-anchor="start">h)</text>
<text x="176.0" y="1172.5" font-size="21.5" text-anchor="middle">0</text>
<text x="233.7" y="1172.5" font-size="21.5" text-anchor="middle">1</text>
<text x="278.1" y="1172.5" font-size="21.5" text-anchor="middle">3</text>
<text x="352.1" y="1172.5" font-size="21.5" text-anchor="middle">0.5</text>
<text x="424.1" y="1172.5" font-size="21.5" text-anchor="middle">1</text>
<text x="482.1" y="1172.5" font-size="21.5" text-anchor="middle">3</text>
<clipPath id="cpe1"><rect x="139.9" y="1182.8" width="366.8" height="49.5"/></clipPath>
<rect x="139.9" y="1182.8" width="366.8" height="49.5" fill="#f0f0f0"/>
<rect x="139.9" y="1182.8" width="366.8" height="49.5" filter="url(#nz)" opacity="0.38"/>
<g clip-path="url(#cpe1)">
<rect x="149.8" y="1197.4" width="52.5" height="15.0" rx="7.5" fill="#000" opacity="0.162" filter="url(#b4)"/>
<rect x="159.7" y="1200.5" width="36.8" height="6.1" rx="3.1" fill="#000" opacity="0.27" filter="url(#b3)"/>
<rect x="210.8" y="1197.4" width="49.1" height="15.0" rx="7.5" fill="#000" opacity="0.15300000000000002" filter="url(#b4)"/>
<rect x="220.7" y="1200.5" width="33.4" height="6.1" rx="3.1" fill="#000" opacity="0.255" filter="url(#b3)"/>
<rect x="267.1" y="1197.4" width="49.1" height="15.0" rx="7.5" fill="#000" opacity="0.135" filter="url(#b4)"/>
<rect x="277.0" y="1200.5" width="33.4" height="6.1" rx="3.1" fill="#000" opacity="0.22499999999999998" filter="url(#b3)"/>
<rect x="324.3" y="1197.4" width="47.4" height="15.0" rx="7.5" fill="#000" opacity="0.135" filter="url(#b4)"/>
<rect x="334.2" y="1200.5" width="31.7" height="6.1" rx="3.1" fill="#000" opacity="0.22499999999999998" filter="url(#b3)"/>
<rect x="380.6" y="1197.4" width="54.2" height="15.0" rx="7.5" fill="#000" opacity="0.279" filter="url(#b4)"/>
<rect x="390.5" y="1200.5" width="38.6" height="6.1" rx="3.1" fill="#000" opacity="0.46499999999999997" filter="url(#b3)"/>
<rect x="442.9" y="1197.4" width="56.0" height="15.0" rx="7.5" fill="#000" opacity="0.3825" filter="url(#b4)"/>
<rect x="452.7" y="1200.5" width="40.3" height="6.1" rx="3.1" fill="#000" opacity="0.6375" filter="url(#b3)"/>
</g>
<rect x="139.9" y="1182.8" width="366.8" height="49.5" fill="none" stroke="#000" stroke-width="2.9"/>
<text x="122.1" y="1215.2" font-size="22" text-anchor="end">CitH3</text>
<text x="521.0" y="1216.9" font-size="22" text-anchor="start" textLength="68.2" lengthAdjust="spacingAndGlyphs">17kDa</text>
<clipPath id="cpe2"><rect x="139.9" y="1267.0" width="366.8" height="54.9"/></clipPath>
<rect x="139.9" y="1267.0" width="366.8" height="54.9" fill="#f9f9f9"/>
<g clip-path="url(#cpe2)">
<rect x="146.4" y="1288.2" width="55.3" height="15.7" rx="7.8" fill="#000" opacity="0.4275" filter="url(#b4)"/>
<rect x="151.5" y="1291.6" width="45.0" height="7.5" rx="3.8" fill="#000" opacity="0.7789999999999999" filter="url(#b3)"/>
<rect x="209.1" y="1288.2" width="47.8" height="15.7" rx="7.8" fill="#000" opacity="0.36000000000000004" filter="url(#b4)"/>
<rect x="214.3" y="1291.6" width="37.5" height="7.5" rx="3.8" fill="#000" opacity="0.656" filter="url(#b3)"/>
<rect x="265.4" y="1288.2" width="49.1" height="15.7" rx="7.8" fill="#000" opacity="0.3825" filter="url(#b4)"/>
<rect x="270.6" y="1291.6" width="38.9" height="7.5" rx="3.8" fill="#000" opacity="0.697" filter="url(#b3)"/>
<rect x="324.1" y="1288.2" width="47.8" height="15.7" rx="7.8" fill="#000" opacity="0.35100000000000003" filter="url(#b4)"/>
<rect x="329.2" y="1291.6" width="37.5" height="7.5" rx="3.8" fill="#000" opacity="0.6396" filter="url(#b3)"/>
<rect x="381.4" y="1288.2" width="56.0" height="15.7" rx="7.8" fill="#000" opacity="0.45" filter="url(#b4)"/>
<rect x="386.6" y="1291.6" width="45.7" height="7.5" rx="3.8" fill="#000" opacity="0.82" filter="url(#b3)"/>
<rect x="439.8" y="1288.2" width="57.3" height="15.7" rx="7.8" fill="#000" opacity="0.45" filter="url(#b4)"/>
<rect x="444.9" y="1291.6" width="47.1" height="7.5" rx="3.8" fill="#000" opacity="0.82" filter="url(#b3)"/>
</g>
<rect x="139.9" y="1267.0" width="366.8" height="54.9" fill="none" stroke="#000" stroke-width="2.9"/>
<text x="122.1" y="1295.4" font-size="22" text-anchor="end">H3</text>
<text x="521.0" y="1307.3" font-size="22" text-anchor="start" textLength="68.2" lengthAdjust="spacingAndGlyphs">17kDa</text>
<clipPath id="cpe3"><rect x="141.6" y="1355.7" width="366.8" height="43.7"/></clipPath>
<rect x="141.6" y="1355.7" width="366.8" height="43.7" fill="#f3f3f3"/>
<g clip-path="url(#cpe3)">
<path d="M150.1,1371.5 Q174.0,1375.1 197.9,1371.5" fill="none" stroke="#000" stroke-width="6" stroke-linecap="round" opacity="0.8" filter="url(#b1)"/>
<path d="M211.5,1372.8 Q235.4,1376.4 259.3,1372.8" fill="none" stroke="#000" stroke-width="6" stroke-linecap="round" opacity="0.85" filter="url(#b1)"/>
<path d="M269.5,1373.9 Q293.4,1377.5 317.3,1373.9" fill="none" stroke="#000" stroke-width="6" stroke-linecap="round" opacity="0.8" filter="url(#b1)"/>
<path d="M327.5,1374.5 Q351.4,1378.1 375.3,1374.5" fill="none" stroke="#000" stroke-width="6" stroke-linecap="round" opacity="0.8" filter="url(#b1)"/>
<path d="M387.2,1375.9 Q411.1,1379.5 435.0,1375.9" fill="none" stroke="#000" stroke-width="6" stroke-linecap="round" opacity="0.75" filter="url(#b1)"/>
<path d="M448.7,1377.3 Q472.5,1380.9 496.4,1377.3" fill="none" stroke="#000" stroke-width="6" stroke-linecap="round" opacity="0.75" filter="url(#b1)"/>
</g>
<rect x="141.6" y="1355.7" width="366.8" height="43.7" fill="none" stroke="#000" stroke-width="2.9"/>
<text x="122.1" y="1377.2" font-size="22" text-anchor="end">β-actin</text>
<text x="521.0" y="1387.5" font-size="22" text-anchor="start" textLength="68.2" lengthAdjust="spacingAndGlyphs">42kDa</text>
<text x="894.9" y="1046.3" font-size="21.5" text-anchor="middle">WT</text>
<text x="955.6" y="1046.3" font-size="21.5" textLength="95.5" lengthAdjust="spacingAndGlyphs"><tspan font-style="italic">Pad2</tspan> KO</text>
<text x="1064.1" y="1046.3" font-size="21.5" textLength="115.0" lengthAdjust="spacingAndGlyphs"><tspan font-style="italic">Pad2/4</tspan> KO</text>
<line x1="852.2" y1="1057.2" x2="943.7" y2="1057.2" stroke="#000" stroke-width="6.2" stroke-linecap="butt"/>
<line x1="959.7" y1="1057.2" x2="1051.8" y2="1057.2" stroke="#000" stroke-width="6.2" stroke-linecap="butt"/>
<line x1="1064.1" y1="1057.2" x2="1156.9" y2="1057.2" stroke="#000" stroke-width="6.2" stroke-linecap="butt"/>
<text x="670.0" y="1088.9" font-size="21.5" text-anchor="start" textLength="150.1" lengthAdjust="spacingAndGlyphs">CitH3 peptide</text>
<text x="874.0" y="1088.6" font-size="25" text-anchor="middle">-</text>
<text x="924.9" y="1088.6" font-size="25" text-anchor="middle">+</text>
<text x="983.9" y="1088.6" font-size="25" text-anchor="middle">-</text>
<text x="1034.7" y="1088.6" font-size="25" text-anchor="middle">+</text>
<text x="1089.3" y="1088.6" font-size="25" text-anchor="middle">-</text>
<text x="1138.8" y="1088.6" font-size="25" text-anchor="middle">+</text>
<clipPath id="cpf1"><rect x="831.7" y="1098.2" width="336.1" height="260.3"/></clipPath>
<rect x="831.7" y="1098.2" width="336.1" height="260.3" fill="#fcfcfc"/>
<rect x="831.7" y="1098.2" width="336.1" height="260.3" filter="url(#nz)" opacity="0.12"/>
<g clip-path="url(#cpf1)">
<rect x="831.7" y="1098.2" width="141.1" height="260.3" fill="url(#lg)"/>
<rect x="902.7" y="1116.2" width="37.5" height="68.2" rx="34.1" fill="#000" opacity="0.05" filter="url(#b4)"/>
<rect x="905.3" y="1159.1" width="32.4" height="3.1" rx="1.5" fill="#000" opacity="0.1" filter="url(#b2)"/>
<rect x="905.3" y="1181.2" width="32.4" height="3.1" rx="1.5" fill="#000" opacity="0.07" filter="url(#b2)"/>
<rect x="831.1" y="1145.6" width="95.5" height="2.7" rx="1.4" fill="#000" opacity="0.04" filter="url(#b2)"/>
<rect x="846.4" y="1204.6" width="40.9" height="5.5" rx="2.7" fill="#000" opacity="0.75" filter="url(#b2)"/>
<rect x="864.8" y="1204.3" width="21.2" height="5.5" rx="2.7" fill="#000" opacity="0.6" filter="url(#b2)"/>
<rect x="845.0" y="1212.1" width="40.3" height="4.8" rx="2.4" fill="#000" opacity="0.38" filter="url(#b3)"/>
<rect x="900.7" y="1203.9" width="41.6" height="7.5" rx="3.8" fill="#000" opacity="1.0" filter="url(#b2)"/>
<rect x="901.0" y="1211.8" width="40.9" height="6.8" rx="3.4" fill="#000" opacity="0.95" filter="url(#b2)"/>
<rect x="900.2" y="1203.2" width="42.6" height="17.1" rx="8.5" fill="#000" opacity="0.35" filter="url(#b3)"/>
<rect x="953.5" y="1204.9" width="38.2" height="4.1" rx="2.0" fill="#000" opacity="0.55" filter="url(#b2)"/>
<rect x="954.7" y="1204.3" width="18.8" height="4.1" rx="2.0" fill="#000" opacity="0.5" filter="url(#b2)"/>
<rect x="953.5" y="1211.9" width="38.2" height="3.8" rx="1.9" fill="#000" opacity="0.38" filter="url(#b2)"/>
<rect x="1008.1" y="1204.9" width="38.2" height="4.1" rx="2.0" fill="#000" opacity="0.26" filter="url(#b2)"/>
<rect x="1008.1" y="1212.3" width="38.2" height="3.8" rx="1.9" fill="#000" opacity="0.22" filter="url(#b2)"/>
<rect x="1060.3" y="1205.3" width="37.5" height="4.1" rx="2.0" fill="#000" opacity="0.18" filter="url(#b2)"/>
<rect x="1060.3" y="1213.0" width="37.5" height="3.8" rx="1.9" fill="#000" opacity="0.14" filter="url(#b2)"/>
<rect x="1112.2" y="1206.3" width="38.2" height="4.1" rx="2.0" fill="#000" opacity="0.2" filter="url(#b2)"/>
<rect x="1112.5" y="1213.6" width="37.5" height="3.8" rx="1.9" fill="#000" opacity="0.16" filter="url(#b2)"/>
<rect x="905.4" y="1233.4" width="34.1" height="4.4" rx="2.2" fill="#000" opacity="0.5" filter="url(#b2)"/>
<rect x="859.0" y="1234.1" width="20.5" height="3.1" rx="1.5" fill="#000" opacity="0.08" filter="url(#b2)"/>
<rect x="841.6" y="1305.3" width="45.0" height="13.6" rx="6.8" fill="#000" opacity="1.0" filter="url(#b2)"/>
<ellipse cx="864.2" cy="1312.8" rx="25.6" ry="11.9" fill="#000" opacity="0.22" filter="url(#b4)"/>
<rect x="895.5" y="1301.2" width="46.4" height="17.7" rx="8.9" fill="#000" opacity="1.0" filter="url(#b1)"/>
<ellipse cx="918.7" cy="1311.4" rx="26.6" ry="13.6" fill="#000" opacity="0.25" filter="url(#b4)"/>
<rect x="900.3" y="1304.9" width="36.8" height="8.9" rx="4.4" fill="#484848" opacity="1.0" filter="url(#b1)"/>
<rect x="951.2" y="1304.7" width="40.9" height="9.2" rx="4.6" fill="#000" opacity="1.0" filter="url(#b2)"/>
<rect x="1005.1" y="1304.4" width="40.9" height="9.9" rx="4.9" fill="#000" opacity="1.0" filter="url(#b2)"/>
<ellipse cx="971.6" cy="1310.0" rx="23.0" ry="8.2" fill="#000" opacity="0.2" filter="url(#b3)"/>
<ellipse cx="1025.5" cy="1310.0" rx="23.0" ry="8.2" fill="#000" opacity="0.2" filter="url(#b3)"/>
<ellipse cx="1078.4" cy="1309.3" rx="20.1" ry="3.8" fill="#000" opacity="0.95" filter="url(#b2)"/>
<ellipse cx="1132.0" cy="1309.7" rx="20.8" ry="3.8" fill="#000" opacity="0.95" filter="url(#b2)"/>
<rect x="843.7" y="1343.5" width="37.5" height="4.1" rx="2.0" fill="#000" opacity="0.2" filter="url(#b2)"/>
<rect x="898.6" y="1341.2" width="36.8" height="4.4" rx="2.2" fill="#000" opacity="0.28" filter="url(#b2)"/>
<circle cx="865.2" cy="1106.0" r="1.8" fill="#222" opacity="0.5" filter="url(#b0)"/>
<circle cx="884.6" cy="1170.8" r="1.7" fill="#222" opacity="0.6" filter="url(#b0)"/>
<circle cx="909.5" cy="1275.9" r="1.6" fill="#222" opacity="0.6" filter="url(#b0)"/>
<circle cx="884.3" cy="1280.0" r="1.2" fill="#222" opacity="0.4" filter="url(#b0)"/>
<circle cx="959.7" cy="1277.6" r="1.2" fill="#222" opacity="0.4" filter="url(#b0)"/>
<circle cx="955.3" cy="1344.8" r="1.5" fill="#222" opacity="0.5" filter="url(#b0)"/>
<circle cx="1112.5" cy="1154.8" r="1.3" fill="#222" opacity="0.35" filter="url(#b0)"/>
<circle cx="1153.5" cy="1278.3" r="1.6" fill="#222" opacity="0.5" filter="url(#b0)"/>
<circle cx="890.8" cy="1226.4" r="1.1" fill="#222" opacity="0.3" filter="url(#b0)"/>
<circle cx="1114.9" cy="1136.7" r="1.0" fill="#222" opacity="0.25" filter="url(#b0)"/>
<circle cx="875.4" cy="1194.7" r="1.0" fill="#222" opacity="0.3" filter="url(#b0)"/>
</g>
<rect x="831.7" y="1098.2" width="336.1" height="260.3" fill="none" stroke="#000" stroke-width="2.9"/>
<text x="680.9" y="1151.0" font-size="21.5" text-anchor="start" textLength="134.8" lengthAdjust="spacingAndGlyphs">Citrullinated</text>
<text x="680.9" y="1179.4" font-size="21.5" text-anchor="start" textLength="91.4" lengthAdjust="spacingAndGlyphs">proteins</text>
<text x="1179.1" y="1222.7" font-size="22" text-anchor="start" textLength="68.2" lengthAdjust="spacingAndGlyphs">32kDa</text>
<text x="1179.1" y="1323.3" font-size="22" text-anchor="start" textLength="68.2" lengthAdjust="spacingAndGlyphs">17kDa</text>
<clipPath id="cpf2"><rect x="831.7" y="1374.9" width="336.1" height="36.5"/></clipPath>
<rect x="831.7" y="1374.9" width="336.1" height="36.5" fill="#f1f1f1"/>
<g clip-path="url(#cpf2)">
<rect x="843.3" y="1387.6" width="41.6" height="6.5" rx="3.2" fill="#000" opacity="0.9" filter="url(#b1)"/>
<rect x="895.5" y="1387.6" width="40.9" height="6.5" rx="3.2" fill="#000" opacity="0.9" filter="url(#b1)"/>
<rect x="948.4" y="1389.0" width="38.2" height="3.8" rx="1.9" fill="#000" opacity="0.7" filter="url(#b1)"/>
<rect x="998.6" y="1388.8" width="40.9" height="4.1" rx="2.0" fill="#000" opacity="0.8" filter="url(#b1)"/>
<rect x="1051.5" y="1388.3" width="40.3" height="5.1" rx="2.6" fill="#000" opacity="0.88" filter="url(#b1)"/>
<rect x="1102.0" y="1388.2" width="42.3" height="5.5" rx="2.7" fill="#000" opacity="0.9" filter="url(#b1)"/>
<rect x="1155.2" y="1391.2" width="10.2" height="2.7" rx="1.4" fill="#000" opacity="0.12" filter="url(#b2)"/>
</g>
<rect x="831.7" y="1374.9" width="336.1" height="36.5" fill="none" stroke="#000" stroke-width="2.9"/>
<text x="822.5" y="1403.5" font-size="22" text-anchor="end">β-actin</text>
<text x="1179.1" y="1401.1" font-size="22" text-anchor="start" textLength="68.2" lengthAdjust="spacingAndGlyphs">42kDa</text>
<clipPath id="cpf3"><rect x="831.7" y="1425.0" width="336.1" height="46.7"/></clipPath>
<rect x="831.7" y="1425.0" width="336.1" height="46.7" fill="#fbfbfb"/>
<g clip-path="url(#cpf3)">
<rect x="847.8" y="1443.8" width="40.3" height="6.8" rx="3.4" fill="#000" opacity="0.9" filter="url(#b2)"/>
<rect x="844.0" y="1441.4" width="45.0" height="13.0" rx="6.5" fill="#000" opacity="0.27" filter="url(#b4)"/>
<rect x="894.2" y="1441.7" width="47.8" height="10.9" rx="5.5" fill="#000" opacity="1" filter="url(#b2)"/>
<rect x="890.4" y="1439.3" width="52.5" height="17.1" rx="8.5" fill="#000" opacity="0.3" filter="url(#b4)"/>
<rect x="950.5" y="1443.9" width="36.8" height="6.5" rx="3.2" fill="#000" opacity="0.8" filter="url(#b2)"/>
<rect x="946.7" y="1441.6" width="41.6" height="12.6" rx="6.3" fill="#000" opacity="0.24" filter="url(#b4)"/>
<rect x="998.9" y="1444.1" width="35.5" height="6.1" rx="3.1" fill="#000" opacity="0.62" filter="url(#b2)"/>
<rect x="995.2" y="1441.7" width="40.3" height="12.3" rx="6.1" fill="#000" opacity="0.186" filter="url(#b4)"/>
<rect x="1051.5" y="1444.8" width="34.1" height="4.8" rx="2.4" fill="#000" opacity="0.22" filter="url(#b2)"/>
<rect x="1047.7" y="1442.4" width="38.9" height="10.9" rx="5.5" fill="#000" opacity="0.066" filter="url(#b4)"/>
<rect x="1104.7" y="1444.5" width="36.8" height="5.5" rx="2.7" fill="#000" opacity="0.3" filter="url(#b2)"/>
<rect x="1100.9" y="1442.1" width="41.6" height="11.6" rx="5.8" fill="#000" opacity="0.09" filter="url(#b4)"/>
</g>
<rect x="831.7" y="1425.0" width="336.1" height="46.7" fill="none" stroke="#000" stroke-width="2.9"/>
<text x="824.2" y="1458.1" font-size="22" text-anchor="end">CitH3</text>
<text x="1179.1" y="1455.7" font-size="22" text-anchor="start" textLength="68.2" lengthAdjust="spacingAndGlyphs">17kDa</text>
<clipPath id="cpf4"><rect x="831.7" y="1486.4" width="336.1" height="46.7"/></clipPath>
<rect x="831.7" y="1486.4" width="336.1" height="46.7" fill="#f7f7f7"/>
<g clip-path="url(#cpf4)">
<rect x="844.0" y="1509.3" width="43.7" height="8.9" rx="4.4" fill="#000" opacity="0.62" filter="url(#b3)"/>
<rect x="840.3" y="1505.2" width="51.2" height="17.1" rx="8.5" fill="#000" opacity="0.26039999999999996" filter="url(#b4)"/>
<rect x="896.9" y="1509.3" width="43.7" height="8.9" rx="4.4" fill="#000" opacity="0.62" filter="url(#b3)"/>
<rect x="893.2" y="1505.2" width="51.2" height="17.1" rx="8.5" fill="#000" opacity="0.26039999999999996" filter="url(#b4)"/>
<rect x="947.7" y="1510.0" width="43.7" height="8.9" rx="4.4" fill="#000" opacity="0.66" filter="url(#b3)"/>
<rect x="944.0" y="1505.9" width="51.2" height="17.1" rx="8.5" fill="#000" opacity="0.2772" filter="url(#b4)"/>
<rect x="996.9" y="1510.0" width="43.7" height="8.9" rx="4.4" fill="#000" opacity="0.6" filter="url(#b3)"/>
<rect x="993.1" y="1505.9" width="51.2" height="17.1" rx="8.5" fill="#000" opacity="0.252" filter="url(#b4)"/>
<rect x="1047.7" y="1510.3" width="43.7" height="8.9" rx="4.4" fill="#000" opacity="0.58" filter="url(#b3)"/>
<rect x="1044.0" y="1506.2" width="51.2" height="17.1" rx="8.5" fill="#000" opacity="0.24359999999999998" filter="url(#b4)"/>
<rect x="1103.0" y="1511.7" width="43.7" height="8.9" rx="4.4" fill="#000" opacity="0.62" filter="url(#b3)"/>
<rect x="1099.2" y="1507.6" width="51.2" height="17.1" rx="8.5" fill="#000" opacity="0.26039999999999996" filter="url(#b4)"/>
</g>
<rect x="831.7" y="1486.4" width="336.1" height="46.7" fill="none" stroke="#000" stroke-width="2.9"/>
<text x="825.9" y="1519.9" font-size="22" text-anchor="end">H3</text>
<text x="1179.1" y="1518.1" font-size="22" text-anchor="start" textLength="68.2" lengthAdjust="spacingAndGlyphs">17kDa</text>
</svg>
</body></html>
